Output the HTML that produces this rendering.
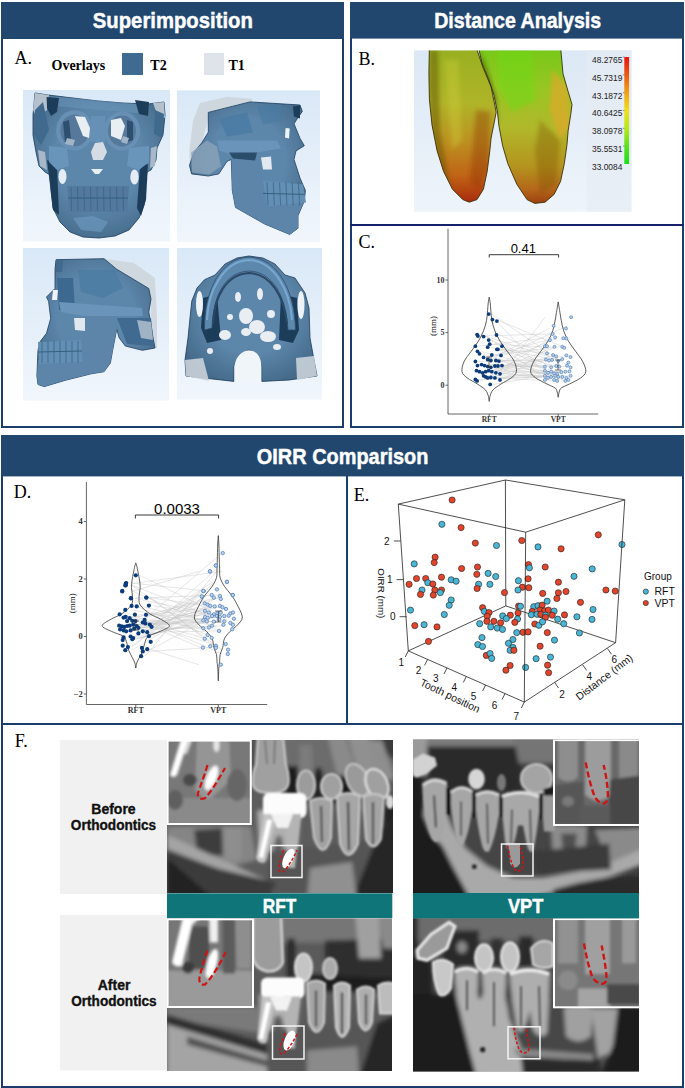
<!DOCTYPE html>
<html><head><meta charset="utf-8"><title>Figure</title>
<style>
html,body{margin:0;padding:0;background:#fff;width:685px;height:1088px;overflow:hidden}
svg{display:block}
.hd{font-family:"Liberation Sans",sans-serif;font-weight:bold;fill:#fff;stroke:#fff;stroke-width:0.45px}
.lab{font-family:"Liberation Serif",serif;fill:#000}
.sans{font-family:"Liberation Sans",sans-serif}
.ser{font-family:"Liberation Serif",serif}
</style></head><body>
<svg width="685" height="1088" viewBox="0 0 685 1088">
<defs><filter id="b1" x="-20%" y="-20%" width="140%" height="140%"><feGaussianBlur stdDeviation="1"/></filter>
<filter id="b15" x="-20%" y="-20%" width="140%" height="140%"><feGaussianBlur stdDeviation="1.5"/></filter>
<filter id="b2" x="-20%" y="-20%" width="140%" height="140%"><feGaussianBlur stdDeviation="2"/></filter>
<filter id="b3" x="-20%" y="-20%" width="140%" height="140%"><feGaussianBlur stdDeviation="3"/></filter>
<filter id="b05"><feGaussianBlur stdDeviation="0.6"/></filter>
<linearGradient id="skbg" x1="0" y1="0" x2="0" y2="1"><stop offset="0" stop-color="#d9e8f7"/><stop offset="1" stop-color="#f1f6fc"/></linearGradient>
<linearGradient id="bbg" x1="0" y1="0" x2="0" y2="1"><stop offset="0" stop-color="#dfeaf6"/><stop offset="1" stop-color="#eef4fa"/></linearGradient>
<linearGradient id="cbar" x1="0" y1="0" x2="0" y2="1"><stop offset="0" stop-color="#e8201a"/><stop offset="0.3" stop-color="#f08a16"/><stop offset="0.5" stop-color="#f2e21a"/><stop offset="0.75" stop-color="#8ee01e"/><stop offset="1" stop-color="#22d61e"/></linearGradient>
</defs>
<!-- ===== Panel A ===== -->
<rect x="2" y="3" width="341" height="424" fill="#fff" stroke="#1b3d6b" stroke-width="2"/>
<rect x="1" y="2" width="343" height="37" fill="#22476f"/>
<text class="hd" x="172.8" y="28" font-size="22" text-anchor="middle" textLength="160" lengthAdjust="spacingAndGlyphs">Superimposition</text>
<text class="lab" x="14.5" y="63.8" font-size="18">A.</text>
<text class="lab" x="51.5" y="69.7" font-size="14" font-weight="bold">Overlays</text>
<rect x="122" y="53" width="21" height="22" fill="#3f6b90"/>
<text class="lab" x="150.3" y="69.7" font-size="14" font-weight="bold">T2</text>
<rect x="204" y="53" width="20" height="22" fill="#dfe4ea"/>
<text class="lab" x="228.5" y="69.7" font-size="14" font-weight="bold">T1</text>
<!-- ===== Panel B/C ===== -->
<rect x="351" y="3" width="332" height="424" fill="#fff" stroke="#1b3d6b" stroke-width="2"/>
<rect x="350" y="2" width="334" height="36.6" fill="#22476f"/>
<text class="hd" x="517.7" y="28" font-size="22" text-anchor="middle" textLength="167" lengthAdjust="spacingAndGlyphs">Distance Analysis</text>
<line x1="350" y1="225" x2="684" y2="225" stroke="#17206a" stroke-width="2"/>
<text class="lab" x="358.6" y="64.8" font-size="18">B.</text>
<text class="lab" x="358.6" y="248.1" font-size="18">C.</text>
<!-- ===== OIRR panel ===== -->
<rect x="2" y="436" width="681" height="651" fill="#fff" stroke="#1b3d6b" stroke-width="2"/>
<rect x="1" y="435" width="683" height="41.4" fill="#22476f"/>
<text class="hd" x="342.6" y="463.5" font-size="22" text-anchor="middle" textLength="171.5" lengthAdjust="spacingAndGlyphs">OIRR Comparison</text>
<line x1="347" y1="476" x2="347" y2="724" stroke="#1b3d6b" stroke-width="2"/>
<line x1="1" y1="724" x2="684" y2="724" stroke="#1b3d6b" stroke-width="2"/>
<text class="lab" x="13.8" y="498.2" font-size="18">D.</text>
<text class="lab" x="353.8" y="501.1" font-size="18">E.</text>
<text class="lab" x="14.8" y="746.7" font-size="18">F.</text>
<!-- Panel F frame -->
<rect x="60" y="740" width="107" height="154" fill="#f1f1f1"/>
<rect x="60" y="915" width="107" height="155.4" fill="#f1f1f1"/>
<g class="sans" font-weight="bold" font-size="14" text-anchor="middle" fill="#111" stroke="#111" stroke-width="0.35">
 <text x="113.5" y="814.3">Before</text>
 <text x="113.5" y="830.3" textLength="85.4" lengthAdjust="spacingAndGlyphs">Orthodontics</text>
 <text x="114.1" y="989.8">After</text>
 <text x="113.9" y="1006.2" textLength="85.4" lengthAdjust="spacingAndGlyphs">Orthodontics</text>
</g>
<defs><radialGradient id="skshade" cx="0.5" cy="0.45" r="0.6"><stop offset="0.55" stop-color="#0a2236" stop-opacity="0"/><stop offset="1" stop-color="#0a2236" stop-opacity="0.28"/></radialGradient></defs><g transform="translate(23,90)">
<rect width="147" height="151.5" fill="url(#skbg)"/>
<g filter="url(#b05)">
<path d="M12,3 L25,5 L50,8 L75,11 L100,13 L125,14 L141,12 L142,25 L140,45 L134,58 L133,70 L128,80 L124,82 L122,95 L121,115 L116,128 L106,140 L92,146 L76,148 L60,147 L47,142 L37,132 L30,118 L28,100 L27,85 L22,82 L16,76 L13,62 L10,45 L10,25 Z" fill="#5c86aa" stroke="#2d4d6c" stroke-width="0.9"/>
<path d="M12,3 L25,5 L50,8 L75,11 L100,13 L125,14 L141,12 L142,25 L140,45 L134,58 L133,70 L128,80 L124,82 L122,95 L121,115 L116,128 L106,140 L92,146 L76,148 L60,147 L47,142 L37,132 L30,118 L28,100 L27,85 L22,82 L16,76 L13,62 L10,45 L10,25 Z" fill="url(#skshade)"/>
<path d="M12,3 L26,5 L24,20 L14,28 L10,20 Z" fill="#c9d1d9" opacity="0.85"/>
<path d="M130,13 L141,12 L142,28 L134,24 Z" fill="#c9d1d9" opacity="0.85"/>
<path d="M26,6 L125,15 L124,24 L30,16 Z" fill="#6c97bc" opacity="0.5"/>
<path d="M24,70 L34,74 L36,125 L30,120 L27,95 Z" fill="#1f3d5a"/>
<path d="M117,76 L125,74 L123,110 L118,126 L114,118 Z" fill="#1f3d5a"/>
<path d="M12,20 L20,12 L26,40 L18,55 L11,45 Z" fill="#41698e"/>
<path d="M132,20 L141,24 L139,48 L131,44 Z" fill="#41698e"/>
<path d="M26,56 L44,58 L46,76 L34,80 L26,72 Z" fill="#6a95ba"/>
<path d="M106,58 L126,56 L126,72 L116,80 L104,76 Z" fill="#6a95ba"/>
<path d="M68,26 L82,26 L82,52 L68,52 Z" fill="#6690b5"/>
<ellipse cx="39.5" cy="86.5" rx="4" ry="7.5" fill="#e4edf6"/>
<ellipse cx="111.5" cy="87" rx="4.2" ry="7.5" fill="#e4edf6"/>
<path d="M23.6,7 L36,8 L34,22 L28,26 L24,18 Z" fill="#1f3d5a"/>
<path d="M112,10 L126,12 L125,26 L116,24 Z" fill="#1f3d5a"/>
<ellipse cx="51.7" cy="40.4" rx="16.5" ry="18" fill="#56789a" stroke="#6890b5" stroke-width="4.2"/>
<ellipse cx="99" cy="41" rx="16" ry="17.5" fill="#56789a" stroke="#6890b5" stroke-width="4.2"/>
<path d="M52,26 L62,27 L67,38 L66,48 L60,46 L56,36 Z" fill="#e9eef3"/>
<path d="M40,32 L46,30 L48,50 L42,52 Z" fill="#2e5070"/>
<path d="M44,48 L52,50 L50,56 L42,54 Z" fill="#9fb4c6"/>
<path d="M88,30 L98,28 L102,36 L98,50 L88,46 Z" fill="#e9eef3"/>
<path d="M104,30 L110,32 L110,50 L104,52 Z" fill="#2e5070"/>
<path d="M100,46 L106,48 L104,54 L98,52 Z" fill="#9fb4c6"/>
<path d="M72,53 L80,52 L84,62 L80,70 L70,70 L68,62 Z" fill="#d5dce3"/>
<path d="M68,79 L80,79 L76,84 L72,84 Z" fill="#e9eef3"/>
<path d="M44,96 L106,96 L104,122 L46,122 Z" fill="#52799f"/>
<path d="M48.0,97 L48.5,121" stroke="#3a6487" stroke-width="0.8"/>
<path d="M54.5,97 L55.0,121" stroke="#3a6487" stroke-width="0.8"/>
<path d="M61.0,97 L61.5,121" stroke="#3a6487" stroke-width="0.8"/>
<path d="M67.5,97 L68.0,121" stroke="#3a6487" stroke-width="0.8"/>
<path d="M74.0,97 L74.5,121" stroke="#3a6487" stroke-width="0.8"/>
<path d="M80.5,97 L81.0,121" stroke="#3a6487" stroke-width="0.8"/>
<path d="M87.0,97 L87.5,121" stroke="#3a6487" stroke-width="0.8"/>
<path d="M93.5,97 L94.0,121" stroke="#3a6487" stroke-width="0.8"/>
<path d="M100.0,97 L100.5,121" stroke="#3a6487" stroke-width="0.8"/>
<path d="M45,108 L105,108" stroke="#35607f" stroke-width="1"/>
<path d="M50,128 L70,126 L85,132 L78,142 L58,140 Z" fill="#6c97bc" opacity="0.7"/>
<path d="M15,60 L22,62 L24,80 L17,76 Z" fill="#a8b8c8"/>
<path d="M128,58 L134,56 L132,76 L127,78 Z" fill="#a8b8c8"/>
</g></g><g transform="translate(177,90.4)">
<rect width="143" height="151.5" fill="url(#skbg)"/>
<g filter="url(#b05)">
<path d="M23,12.5 L50,6.3 L75,8.4 L75,14 L40,22 L31,30 L25,52 L16.7,62.6 L12.5,79 L12.5,58.5 L16,30 Z" fill="#cfd6dd" opacity="0.95"/>
<path d="M31.3,22 L73,11.5 L123,14.6 L125.3,21 L121,27 L117,33.4 L123,48 L127.3,55.3 L119,60.5 L117,69 L123,87.7 L128.4,100 L127.3,110.6 L121,125.3 L121,137.8 L112.7,144 L87.7,133.6 L69,123 L58.5,117 L55.3,100 L54.3,69 L50,71 L41.8,83.5 L31.3,85.6 L14.6,83.5 L12.5,75 L16.7,62.6 L25,52 L31.3,41.8 Z" fill="#5c86aa" stroke="#2d4d6c" stroke-width="0.9"/>
<path d="M31.3,22 L73,11.5 L123,14.6 L125.3,21 L121,27 L117,33.4 L123,48 L127.3,55.3 L119,60.5 L117,69 L123,87.7 L128.4,100 L127.3,110.6 L121,125.3 L121,137.8 L112.7,144 L87.7,133.6 L69,123 L58.5,117 L55.3,100 L54.3,69 L50,71 L41.8,83.5 L31.3,85.6 L14.6,83.5 L12.5,75 L16.7,62.6 L25,52 L31.3,41.8 Z" fill="url(#skshade)"/>
<path d="M14,62 L30,50 L40,56 L44,76 L32,84 L15,82 Z" fill="#8fa6bb" opacity="0.75"/>
<path d="M42,28 L70,22 L76,42 L50,46 Z" fill="#4a7aa2" opacity="0.8"/>
<path d="M80,16 L104,14 L106,30 L86,34 Z" fill="#4a7aa2" opacity="0.6"/>
<path d="M54.3,66 L80,62 L86,88 L100,100 L122,105 L127.3,110.6 L121,125.3 L121,137.8 L112.7,144 L87.7,133.6 L69,123 L58.5,117 L55.3,100 Z" fill="#5b85a9"/>
<path d="M40,50 L100,50 L104,58 L80,62 L54,64 L42,60 Z" fill="#6a94b9"/>
<path d="M52,62 L80,62 L78,70 L56,68 Z" fill="#244360" opacity="0.85"/>
<path d="M84,67 L94,66 L95,79 L86,79 Z" fill="#e2e9f0"/>
<path d="M108.6,37.6 L112.7,38 L112,48 L108,47 Z" fill="#eef3f8"/>
<path d="M116,16 L123,15 L123,28 L117,26 Z" fill="#1f3d5a"/>
<path d="M86,90 L126,94 L129,112 L90,116 Z" fill="#648fb5"/>
<path d="M90.0,92 L91.0,115" stroke="#3a6487" stroke-width="0.8"/>
<path d="M96.3,92 L97.3,115" stroke="#3a6487" stroke-width="0.8"/>
<path d="M102.6,92 L103.6,115" stroke="#3a6487" stroke-width="0.8"/>
<path d="M108.9,92 L109.9,115" stroke="#3a6487" stroke-width="0.8"/>
<path d="M115.2,92 L116.2,115" stroke="#3a6487" stroke-width="0.8"/>
<path d="M121.5,92 L122.5,115" stroke="#3a6487" stroke-width="0.8"/>
<path d="M86,103 L128,104" stroke="#35607f" stroke-width="1"/>
</g></g><g transform="translate(23,248)">
<rect width="146" height="152.7" fill="url(#skbg)"/>
<g filter="url(#b05)">
<path d="M81,10.7 L111,15 L132,30 L134,70 L134,100 L125,100 L128,60 L120,40 L93.8,21.3 Z" fill="#d0d7de" opacity="0.95"/>
<path d="M33,11.7 L81,10.7 L93.8,21.3 L125.8,40.5 L128,51 L125.8,64 L130,89.6 L132,100 L119.4,102.3 L102.3,98 L96,89.6 L93.8,81 L89.6,102.3 L87.4,115 L81,123.7 L68.2,125.8 L42.6,132.2 L21.3,138.6 L15,136.5 L13.9,128 L15,102.3 L17,93.8 L23.5,85.3 L27.7,70.4 L25.6,53.3 L23.5,49 L32,40.5 L32,21.3 Z" fill="#5c86aa" stroke="#2d4d6c" stroke-width="0.9"/>
<path d="M33,11.7 L81,10.7 L93.8,21.3 L125.8,40.5 L128,51 L125.8,64 L130,89.6 L132,100 L119.4,102.3 L102.3,98 L96,89.6 L93.8,81 L89.6,102.3 L87.4,115 L81,123.7 L68.2,125.8 L42.6,132.2 L21.3,138.6 L15,136.5 L13.9,128 L15,102.3 L17,93.8 L23.5,85.3 L27.7,70.4 L25.6,53.3 L23.5,49 L32,40.5 L32,21.3 Z" fill="url(#skshade)"/>
<path d="M55,22 L92,22 L100,40 L80,50 L58,44 Z" fill="#4a7aa2" opacity="0.7"/>
<path d="M34,30 L50,30 L52,62 L36,62 Z" fill="#3c6990"/>
<path d="M94,70 L128,70 L131,98 L104,96 Z" fill="#3f6a90"/>
<path d="M114,72 L128,74 L130,92 L118,90 Z" fill="#b9c6d2" opacity="0.8"/>
<path d="M60,66 L93.8,70 L93.8,81 L89.6,102.3 L87.4,115 L81,123.7 L68.2,125.8 L42.6,132.2 L21.3,138.6 L15,136.5 L13.9,128 L15,112 L40,110 L60,100 Z" fill="#5b85a9"/>
<path d="M36,54 L119,60 L120,68 L60,68 L38,64 Z" fill="#6a94b9"/>
<path d="M51,70 L62,70 L62,83 L52,82 Z" fill="#e0e7ee"/>
<path d="M30,42 L35,42 L34,52 L29,52 Z" fill="#eef3f8"/>
<path d="M15,94 L58,92 L60,114 L16,116 Z" fill="#648fb5"/>
<path d="M19,93 L19,115" stroke="#3a6487" stroke-width="0.8"/>
<path d="M25,93 L25,115" stroke="#3a6487" stroke-width="0.8"/>
<path d="M31,93 L31,115" stroke="#3a6487" stroke-width="0.8"/>
<path d="M37,93 L37,115" stroke="#3a6487" stroke-width="0.8"/>
<path d="M43,93 L43,115" stroke="#3a6487" stroke-width="0.8"/>
<path d="M49,93 L49,115" stroke="#3a6487" stroke-width="0.8"/>
<path d="M55,93 L55,115" stroke="#3a6487" stroke-width="0.8"/>
<path d="M15,104 L59,103" stroke="#35607f" stroke-width="1"/>
<path d="M33,12 L40,12 L39,24 L33,24 Z" fill="#41698e"/>
</g></g><g transform="translate(177,248)">
<rect width="145" height="151.6" fill="url(#skbg)"/>
<g filter="url(#b05)">
<path d="M9,128 L8,112 L11,90 L13,70 L14.8,53 L20,40 L27.5,31.7 L38,27 L48,16 L60,10 L72,8 L86,10 L98,16 L108,27 L118,30 L128,45 L132,60 L133,90 L137,112 L140,128 L112,132 L84.7,133.4 L84.7,118 L80,106 L72,102 L63,106 L57,118 L57,133.4 Z" fill="#5c86aa" stroke="#2d4d6c" stroke-width="0.9"/>
<path d="M9,128 L8,112 L11,90 L13,70 L14.8,53 L20,40 L27.5,31.7 L38,27 L48,16 L60,10 L72,8 L86,10 L98,16 L108,27 L118,30 L128,45 L132,60 L133,90 L137,112 L140,128 L112,132 L84.7,133.4 L84.7,118 L80,106 L72,102 L63,106 L57,118 L57,133.4 Z" fill="url(#skshade)"/>
<path d="M8,112 L26,110 L32,133 L9,128 Z" fill="#c9d1d9" opacity="0.9"/>
<path d="M119,110 L137,108 L140,128 L120,132 Z" fill="#c9d1d9" opacity="0.9"/>
<path d="M26,50 L40,46 L44,92 L30,95 L24,80 Z" fill="#1f3d5a"/>
<path d="M104,46 L120,50 L122,82 L116,95 L102,92 Z" fill="#1f3d5a"/>
<ellipse cx="22.5" cy="56" rx="3.5" ry="13" fill="#eef3f8"/>
<ellipse cx="124" cy="57" rx="3.5" ry="14" fill="#eef3f8"/>
<ellipse cx="69.0" cy="68.0" rx="7.0" ry="8.0" fill="#e9eef3"/>
<ellipse cx="80.0" cy="79.0" rx="8.0" ry="7.0" fill="#e9eef3"/>
<ellipse cx="69.0" cy="84.0" rx="5.0" ry="4.0" fill="#e9eef3"/>
<ellipse cx="48.0" cy="87.0" rx="6.0" ry="5.0" fill="#e9eef3"/>
<ellipse cx="91.0" cy="88.5" rx="8.0" ry="5.5" fill="#e9eef3"/>
<ellipse cx="61.0" cy="49.0" rx="3.0" ry="5.0" fill="#e9eef3"/>
<ellipse cx="83.0" cy="46.0" rx="3.0" ry="6.0" fill="#e9eef3"/>
<ellipse cx="94.0" cy="66.0" rx="4.0" ry="4.0" fill="#e9eef3"/>
<ellipse cx="53.0" cy="69.0" rx="3.0" ry="3.0" fill="#e9eef3"/>
<ellipse cx="100.0" cy="99.0" rx="4.0" ry="3.0" fill="#e9eef3"/>
<ellipse cx="33.0" cy="103.0" rx="3.0" ry="3.0" fill="#e9eef3"/>
<path d="M27.5,82 C27,42 44,10 72,9 C100,10 118,42 118.5,82 L111,82 C109,48 96,24 72,23 C48,24 36,48 35,80 Z" fill="#5d88ad" stroke="#2d4d6c" stroke-width="0.8"/>
<path d="M30,72 C31,42 47,13 72,12 C97,13 113,42 115,72" fill="none" stroke="#78a8cf" stroke-width="2"/>
<path d="M36,76 C37,48 50,26 72,25 C94,26 107,48 110,76" fill="none" stroke="#2a4866" stroke-width="2"/>
</g>
<path d="M57.5,134 L57.5,118 C59,108 65,102.5 72,102.5 C79,102.5 84,108 84.3,118 L84.3,134 Z" fill="#f0f5fa"/>
</g><g id="panelB">
<defs><linearGradient id="rootL" x1="0" y1="50" x2="0" y2="203" gradientUnits="userSpaceOnUse"><stop offset="0" stop-color="#98b020"/><stop offset="0.35" stop-color="#b0b428"/><stop offset="0.6" stop-color="#bc9020"/><stop offset="0.82" stop-color="#c06416"/><stop offset="1" stop-color="#a82a0c"/></linearGradient><linearGradient id="rootR" x1="0" y1="50" x2="0" y2="205" gradientUnits="userSpaceOnUse"><stop offset="0" stop-color="#78c818"/><stop offset="0.25" stop-color="#98c622"/><stop offset="0.5" stop-color="#b0b82a"/><stop offset="0.75" stop-color="#b4941e"/><stop offset="0.9" stop-color="#b4661a"/><stop offset="1" stop-color="#9a3c10"/></linearGradient><linearGradient id="bbg2" x1="0" y1="0" x2="0" y2="1"><stop offset="0" stop-color="#dce8f5"/><stop offset="1" stop-color="#eef4fa"/></linearGradient><linearGradient id="legbg" x1="0" y1="0" x2="0" y2="1"><stop offset="0" stop-color="#e2eaf3"/><stop offset="1" stop-color="#e9eff6"/></linearGradient><clipPath id="cpB"><rect x="414" y="50.4" width="217.4" height="161.3"/></clipPath></defs>
<rect x="414" y="50.4" width="217.4" height="161.3" fill="url(#bbg2)"/>
<rect x="586.7" y="50.4" width="44.7" height="161.3" fill="url(#legbg)"/>
<defs><clipPath id="cpRL"><path d="M429.4,46.0 L428.9,73.7 L429.4,99.4 L432.0,125.0 L437.1,150.8 L443.5,171.3 L452.5,189.3 L462.8,199.6 L469.2,202.2 L477.0,199.6 L483.4,189.3 L487.2,171.3 L489.8,150.8 L491.1,138.0 L493.7,125.0 L496.2,112.2 L491.0,86.5 L483.4,68.6 L475.7,46.0 Z"/></clipPath><clipPath id="cpRR"><path d="M478.2,46.0 L482.0,63.4 L488.5,78.8 L493.7,94.2 L497.5,112.2 L498.8,125.0 L502.6,145.6 L507.8,163.6 L516.8,184.2 L527.0,199.6 L534.8,203.4 L545.0,202.2 L554.0,194.5 L560.5,181.6 L564.3,163.6 L566.9,145.6 L568.2,130.2 L570.7,114.8 L572.0,104.5 L568.2,91.7 L563.0,73.7 L560.5,46.0 Z"/></clipPath></defs>
<g clip-path="url(#cpB)">
<path d="M429.4,46.0 L428.9,73.7 L429.4,99.4 L432.0,125.0 L437.1,150.8 L443.5,171.3 L452.5,189.3 L462.8,199.6 L469.2,202.2 L477.0,199.6 L483.4,189.3 L487.2,171.3 L489.8,150.8 L491.1,138.0 L493.7,125.0 L496.2,112.2 L491.0,86.5 L483.4,68.6 L475.7,46.0 Z" fill="url(#rootL)"/>
<path d="M478.2,46.0 L482.0,63.4 L488.5,78.8 L493.7,94.2 L497.5,112.2 L498.8,125.0 L502.6,145.6 L507.8,163.6 L516.8,184.2 L527.0,199.6 L534.8,203.4 L545.0,202.2 L554.0,194.5 L560.5,181.6 L564.3,163.6 L566.9,145.6 L568.2,130.2 L570.7,114.8 L572.0,104.5 L568.2,91.7 L563.0,73.7 L560.5,46.0 Z" fill="url(#rootR)"/>
<g clip-path="url(#cpRL)"><g filter="url(#b2)">
<path d="M430,50 L438,50 L440,130 L450,185 L440,175 L432,140 L429,90 Z" fill="#5a4a08" opacity="0.45"/>
<path d="M445,60 L458,60 L462,140 L452,150 Z" fill="#d0d040" opacity="0.35"/>
<path d="M476,110 L490,112 L488,170 L478,190 L470,180 Z" fill="#8a2a08" opacity="0.35"/>
</g></g><g clip-path="url(#cpRR)"><g filter="url(#b2)">
<path d="M498,50 L532,50 L536,100 L512,112 L498,86 Z" fill="#70d818" opacity="0.55"/>
<path d="M552,70 L568,86 L570,125 L560,140 L550,110 Z" fill="#e0a828" opacity="0.7"/>
<path d="M540,120 L560,140 L556,185 L540,195 L535,150 Z" fill="#7a5008" opacity="0.35"/>
<path d="M478,50 L484,60 L496,96 L498,125 L492,110 L482,70 Z" fill="#303808" opacity="0.5"/>
</g></g>
<path d="M429.4,46.0 L428.9,73.7 L429.4,99.4 L432.0,125.0 L437.1,150.8 L443.5,171.3 L452.5,189.3 L462.8,199.6 L469.2,202.2 L477.0,199.6 L483.4,189.3 L487.2,171.3 L489.8,150.8 L491.1,138.0 L493.7,125.0 L496.2,112.2 L491.0,86.5 L483.4,68.6 L475.7,46.0 Z" fill="none" stroke="#3a3008" stroke-width="0.9"/>
<path d="M478.2,46.0 L482.0,63.4 L488.5,78.8 L493.7,94.2 L497.5,112.2 L498.8,125.0 L502.6,145.6 L507.8,163.6 L516.8,184.2 L527.0,199.6 L534.8,203.4 L545.0,202.2 L554.0,194.5 L560.5,181.6 L564.3,163.6 L566.9,145.6 L568.2,130.2 L570.7,114.8 L572.0,104.5 L568.2,91.7 L563.0,73.7 L560.5,46.0 Z" fill="none" stroke="#3a3008" stroke-width="0.9"/>
</g>
<defs><linearGradient id="cbar2" x1="0" y1="0" x2="0" y2="1"><stop offset="0" stop-color="#e8140e"/><stop offset="0.17" stop-color="#ec5a10"/><stop offset="0.33" stop-color="#f0a016"/><stop offset="0.5" stop-color="#f0e01a"/><stop offset="0.67" stop-color="#b4e81c"/><stop offset="0.83" stop-color="#60e01e"/><stop offset="1" stop-color="#18dc1e"/></linearGradient></defs>
<rect x="624.3" y="57" width="4.8" height="107" fill="url(#cbar2)"/>
<text class="sans" x="622.3" y="62.8" font-size="8.4" fill="#222" text-anchor="end">48.2765</text>
<line x1="622.8" y1="57.0" x2="624.5" y2="57.0" stroke="#555" stroke-width="0.6"/>
<text class="sans" x="622.3" y="80.7" font-size="8.4" fill="#222" text-anchor="end">45.7319</text>
<line x1="622.8" y1="74.8" x2="624.5" y2="74.8" stroke="#555" stroke-width="0.6"/>
<text class="sans" x="622.3" y="98.5" font-size="8.4" fill="#222" text-anchor="end">43.1872</text>
<line x1="622.8" y1="92.7" x2="624.5" y2="92.7" stroke="#555" stroke-width="0.6"/>
<text class="sans" x="622.3" y="116.4" font-size="8.4" fill="#222" text-anchor="end">40.6425</text>
<line x1="622.8" y1="110.5" x2="624.5" y2="110.5" stroke="#555" stroke-width="0.6"/>
<text class="sans" x="622.3" y="134.2" font-size="8.4" fill="#222" text-anchor="end">38.0978</text>
<line x1="622.8" y1="128.3" x2="624.5" y2="128.3" stroke="#555" stroke-width="0.6"/>
<text class="sans" x="622.3" y="152.1" font-size="8.4" fill="#222" text-anchor="end">35.5531</text>
<line x1="622.8" y1="146.1" x2="624.5" y2="146.1" stroke="#555" stroke-width="0.6"/>
<text class="sans" x="622.3" y="170.0" font-size="8.4" fill="#222" text-anchor="end">33.0084</text>
</g><g id="panelC">
<path d="M448,228.7 L448,414 L598.2,414" fill="none" stroke="#555" stroke-width="0.9"/>
<line x1="445.5" y1="385.2" x2="448" y2="385.2" stroke="#555" stroke-width="0.9"/>
<text class="ser" x="444.5" y="387.8" font-size="8" font-weight="bold" fill="#333" text-anchor="end">0</text>
<line x1="445.5" y1="332.6" x2="448" y2="332.6" stroke="#555" stroke-width="0.9"/>
<text class="ser" x="444.5" y="335.2" font-size="8" font-weight="bold" fill="#333" text-anchor="end">5</text>
<line x1="445.5" y1="280.0" x2="448" y2="280.0" stroke="#555" stroke-width="0.9"/>
<text class="ser" x="444.5" y="282.6" font-size="8" font-weight="bold" fill="#333" text-anchor="end">10</text>
<line x1="489.2" y1="414" x2="489.2" y2="416.5" stroke="#555" stroke-width="0.9"/>
<text class="ser" x="489.2" y="422.3" font-size="7.5" font-weight="bold" fill="#333" text-anchor="middle">RFT</text>
<line x1="558.2" y1="414" x2="558.2" y2="416.5" stroke="#555" stroke-width="0.9"/>
<text class="ser" x="558.2" y="422.3" font-size="7.5" font-weight="bold" fill="#333" text-anchor="middle">VPT</text>
<text class="ser" transform="translate(436,326) rotate(-90)" font-size="9" fill="#111" text-anchor="middle">(mm)</text>
<path d="M489.2,257.5 L489.2,254.7 L558.6,254.7 L558.6,257.5" fill="none" stroke="#222" stroke-width="0.9"/>
<text class="sans" x="523.3" y="253.2" font-size="13" fill="#000" text-anchor="middle">0.41</text>
<line x1="491.7" y1="314.1" x2="568.1" y2="366.0" stroke="#c8c8c8" stroke-width="0.45"/>
<line x1="495.4" y1="319.6" x2="550.7" y2="379.9" stroke="#c8c8c8" stroke-width="0.45"/>
<line x1="499.9" y1="321.1" x2="563.0" y2="346.8" stroke="#c8c8c8" stroke-width="0.45"/>
<line x1="480.1" y1="334.6" x2="549.7" y2="357.0" stroke="#c8c8c8" stroke-width="0.45"/>
<line x1="480.9" y1="336.0" x2="552.1" y2="333.9" stroke="#c8c8c8" stroke-width="0.45"/>
<line x1="486.6" y1="336.6" x2="547.0" y2="379.9" stroke="#c8c8c8" stroke-width="0.45"/>
<line x1="499.5" y1="335.0" x2="560.3" y2="360.5" stroke="#c8c8c8" stroke-width="0.45"/>
<line x1="491.7" y1="340.1" x2="563.4" y2="379.9" stroke="#c8c8c8" stroke-width="0.45"/>
<line x1="492.7" y1="344.2" x2="541.9" y2="346.8" stroke="#c8c8c8" stroke-width="0.45"/>
<line x1="478.4" y1="346.2" x2="544.0" y2="338.2" stroke="#c8c8c8" stroke-width="0.45"/>
<line x1="505.0" y1="346.2" x2="551.5" y2="366.6" stroke="#c8c8c8" stroke-width="0.45"/>
<line x1="490.7" y1="347.2" x2="559.3" y2="367.3" stroke="#c8c8c8" stroke-width="0.45"/>
<line x1="480.5" y1="351.3" x2="561.3" y2="372.8" stroke="#c8c8c8" stroke-width="0.45"/>
<line x1="482.5" y1="353.8" x2="544.0" y2="371.7" stroke="#c8c8c8" stroke-width="0.45"/>
<line x1="499.9" y1="349.3" x2="550.1" y2="353.4" stroke="#c8c8c8" stroke-width="0.45"/>
<line x1="500.9" y1="349.3" x2="553.2" y2="359.1" stroke="#c8c8c8" stroke-width="0.45"/>
<line x1="494.8" y1="355.0" x2="563.4" y2="346.2" stroke="#c8c8c8" stroke-width="0.45"/>
<line x1="504.0" y1="355.4" x2="567.5" y2="325.8" stroke="#c8c8c8" stroke-width="0.45"/>
<line x1="478.4" y1="361.5" x2="542.9" y2="359.5" stroke="#c8c8c8" stroke-width="0.45"/>
<line x1="486.6" y1="357.4" x2="546.0" y2="340.1" stroke="#c8c8c8" stroke-width="0.45"/>
<line x1="490.7" y1="359.5" x2="549.1" y2="328.4" stroke="#c8c8c8" stroke-width="0.45"/>
<line x1="493.8" y1="360.5" x2="555.2" y2="361.1" stroke="#c8c8c8" stroke-width="0.45"/>
<line x1="498.9" y1="360.5" x2="559.3" y2="377.9" stroke="#c8c8c8" stroke-width="0.45"/>
<line x1="501.9" y1="361.1" x2="565.4" y2="380.9" stroke="#c8c8c8" stroke-width="0.45"/>
<line x1="480.5" y1="365.6" x2="541.9" y2="376.9" stroke="#c8c8c8" stroke-width="0.45"/>
<line x1="484.6" y1="364.6" x2="548.1" y2="365.6" stroke="#c8c8c8" stroke-width="0.45"/>
<line x1="487.6" y1="365.6" x2="553.2" y2="371.7" stroke="#c8c8c8" stroke-width="0.45"/>
<line x1="490.7" y1="366.6" x2="556.2" y2="338.4" stroke="#c8c8c8" stroke-width="0.45"/>
<line x1="493.8" y1="367.3" x2="564.0" y2="375.8" stroke="#c8c8c8" stroke-width="0.45"/>
<line x1="497.9" y1="366.0" x2="567.5" y2="366.6" stroke="#c8c8c8" stroke-width="0.45"/>
<line x1="500.9" y1="366.0" x2="541.9" y2="359.9" stroke="#c8c8c8" stroke-width="0.45"/>
<line x1="505.0" y1="365.6" x2="545.0" y2="367.3" stroke="#c8c8c8" stroke-width="0.45"/>
<line x1="479.5" y1="370.7" x2="548.1" y2="373.4" stroke="#c8c8c8" stroke-width="0.45"/>
<line x1="482.5" y1="371.7" x2="551.1" y2="376.9" stroke="#c8c8c8" stroke-width="0.45"/>
<line x1="485.6" y1="372.8" x2="554.2" y2="347.8" stroke="#c8c8c8" stroke-width="0.45"/>
<line x1="488.7" y1="371.7" x2="558.3" y2="355.0" stroke="#c8c8c8" stroke-width="0.45"/>
<line x1="491.7" y1="370.7" x2="562.4" y2="372.2" stroke="#c8c8c8" stroke-width="0.45"/>
<line x1="494.8" y1="371.7" x2="566.4" y2="355.4" stroke="#c8c8c8" stroke-width="0.45"/>
<line x1="498.9" y1="372.8" x2="541.9" y2="377.9" stroke="#c8c8c8" stroke-width="0.45"/>
<line x1="503.0" y1="373.8" x2="545.0" y2="317.2" stroke="#c8c8c8" stroke-width="0.45"/>
<line x1="486.6" y1="375.8" x2="548.1" y2="375.8" stroke="#c8c8c8" stroke-width="0.45"/>
<line x1="488.7" y1="376.9" x2="552.1" y2="337.4" stroke="#c8c8c8" stroke-width="0.45"/>
<line x1="490.7" y1="377.9" x2="555.2" y2="380.9" stroke="#c8c8c8" stroke-width="0.45"/>
<line x1="493.8" y1="377.5" x2="559.3" y2="376.9" stroke="#c8c8c8" stroke-width="0.45"/>
<line x1="497.9" y1="377.9" x2="563.4" y2="370.7" stroke="#c8c8c8" stroke-width="0.45"/>
<line x1="478.4" y1="379.5" x2="567.5" y2="375.8" stroke="#c8c8c8" stroke-width="0.45"/>
<line x1="480.1" y1="380.9" x2="541.9" y2="362.6" stroke="#c8c8c8" stroke-width="0.45"/>
<line x1="503.0" y1="379.9" x2="551.1" y2="346.2" stroke="#c8c8c8" stroke-width="0.45"/>
<line x1="493.2" y1="384.4" x2="554.2" y2="373.8" stroke="#c8c8c8" stroke-width="0.45"/>
<path d="M489.20,297.20 C489.37,298.17 489.93,300.80 490.20,303.00 C490.47,305.20 490.52,307.45 490.80,310.40 C491.08,313.35 491.22,317.28 491.90,320.70 C492.58,324.12 493.55,327.50 494.90,330.90 C496.25,334.30 497.95,337.70 500.00,341.10 C502.05,344.50 504.82,347.90 507.20,351.30 C509.58,354.70 512.77,358.10 514.30,361.50 C515.83,364.90 516.92,368.97 516.40,371.70 C515.88,374.43 513.77,375.85 511.20,377.90 C508.63,379.95 504.05,381.98 501.00,384.00 C497.95,386.02 494.73,387.95 492.90,390.00 C491.07,392.05 490.62,394.40 490.00,396.30 C489.38,398.20 489.33,400.55 489.20,401.40 L489.20,401.40 C489.07,400.55 489.02,398.20 488.40,396.30 C487.78,394.40 487.33,392.05 485.50,390.00 C483.67,387.95 480.45,386.02 477.40,384.00 C474.35,381.98 469.77,379.95 467.20,377.90 C464.63,375.85 462.52,374.43 462.00,371.70 C461.48,368.97 462.57,364.90 464.10,361.50 C465.63,358.10 468.82,354.70 471.20,351.30 C473.58,347.90 476.35,344.50 478.40,341.10 C480.45,337.70 482.15,334.30 483.50,330.90 C484.85,327.50 485.82,324.12 486.50,320.70 C487.18,317.28 487.32,313.35 487.60,310.40 C487.88,307.45 487.93,305.20 488.20,303.00 C488.47,300.80 489.03,298.17 489.20,297.20 Z" fill="none" stroke="#333" stroke-width="0.8"/>
<path d="M558.20,301.90 C558.37,302.92 558.97,306.58 559.20,308.00 C559.43,309.42 559.25,308.28 559.60,310.40 C559.95,312.52 560.62,317.28 561.30,320.70 C561.98,324.12 562.52,327.50 563.70,330.90 C564.88,334.30 566.42,337.70 568.40,341.10 C570.38,344.50 573.22,347.90 575.60,351.30 C577.98,354.70 581.00,358.10 582.70,361.50 C584.40,364.90 586.13,368.97 585.80,371.70 C585.47,374.43 583.43,375.85 580.70,377.90 C577.97,379.95 572.63,382.32 569.40,384.00 C566.17,385.68 563.00,386.67 561.30,388.00 C559.60,389.33 559.72,390.45 559.20,392.00 C558.68,393.55 558.37,396.42 558.20,397.30 L558.20,397.30 C558.03,396.42 557.72,393.55 557.20,392.00 C556.68,390.45 556.80,389.33 555.10,388.00 C553.40,386.67 550.23,385.68 547.00,384.00 C543.77,382.32 538.43,379.95 535.70,377.90 C532.97,375.85 530.93,374.43 530.60,371.70 C530.27,368.97 532.00,364.90 533.70,361.50 C535.40,358.10 538.42,354.70 540.80,351.30 C543.18,347.90 546.02,344.50 548.00,341.10 C549.98,337.70 551.52,334.30 552.70,330.90 C553.88,327.50 554.42,324.12 555.10,320.70 C555.78,317.28 556.45,312.52 556.80,310.40 C557.15,308.28 556.97,309.42 557.20,308.00 C557.43,306.58 558.03,302.92 558.20,301.90 Z" fill="none" stroke="#333" stroke-width="0.8"/>
<circle cx="488.7" cy="314.1" r="1.9" fill="#0c3c7c"/>
<circle cx="492.4" cy="319.6" r="1.9" fill="#0c3c7c"/>
<circle cx="496.9" cy="321.1" r="1.9" fill="#0c3c7c"/>
<circle cx="477.1" cy="334.6" r="1.9" fill="#0c3c7c"/>
<circle cx="477.9" cy="336.0" r="1.9" fill="#0c3c7c"/>
<circle cx="483.6" cy="336.6" r="1.9" fill="#0c3c7c"/>
<circle cx="496.5" cy="335.0" r="1.9" fill="#0c3c7c"/>
<circle cx="488.7" cy="340.1" r="1.9" fill="#0c3c7c"/>
<circle cx="489.7" cy="344.2" r="1.9" fill="#0c3c7c"/>
<circle cx="475.4" cy="346.2" r="1.9" fill="#0c3c7c"/>
<circle cx="502.0" cy="346.2" r="1.9" fill="#0c3c7c"/>
<circle cx="487.7" cy="347.2" r="1.9" fill="#0c3c7c"/>
<circle cx="477.5" cy="351.3" r="1.9" fill="#0c3c7c"/>
<circle cx="479.5" cy="353.8" r="1.9" fill="#0c3c7c"/>
<circle cx="496.9" cy="349.3" r="1.9" fill="#0c3c7c"/>
<circle cx="497.9" cy="349.3" r="1.9" fill="#0c3c7c"/>
<circle cx="491.8" cy="355.0" r="1.9" fill="#0c3c7c"/>
<circle cx="501.0" cy="355.4" r="1.9" fill="#0c3c7c"/>
<circle cx="475.4" cy="361.5" r="1.9" fill="#0c3c7c"/>
<circle cx="483.6" cy="357.4" r="1.9" fill="#0c3c7c"/>
<circle cx="487.7" cy="359.5" r="1.9" fill="#0c3c7c"/>
<circle cx="490.8" cy="360.5" r="1.9" fill="#0c3c7c"/>
<circle cx="495.9" cy="360.5" r="1.9" fill="#0c3c7c"/>
<circle cx="498.9" cy="361.1" r="1.9" fill="#0c3c7c"/>
<circle cx="477.5" cy="365.6" r="1.9" fill="#0c3c7c"/>
<circle cx="481.6" cy="364.6" r="1.9" fill="#0c3c7c"/>
<circle cx="484.6" cy="365.6" r="1.9" fill="#0c3c7c"/>
<circle cx="487.7" cy="366.6" r="1.9" fill="#0c3c7c"/>
<circle cx="490.8" cy="367.3" r="1.9" fill="#0c3c7c"/>
<circle cx="494.9" cy="366.0" r="1.9" fill="#0c3c7c"/>
<circle cx="497.9" cy="366.0" r="1.9" fill="#0c3c7c"/>
<circle cx="502.0" cy="365.6" r="1.9" fill="#0c3c7c"/>
<circle cx="476.5" cy="370.7" r="1.9" fill="#0c3c7c"/>
<circle cx="479.5" cy="371.7" r="1.9" fill="#0c3c7c"/>
<circle cx="482.6" cy="372.8" r="1.9" fill="#0c3c7c"/>
<circle cx="485.7" cy="371.7" r="1.9" fill="#0c3c7c"/>
<circle cx="488.7" cy="370.7" r="1.9" fill="#0c3c7c"/>
<circle cx="491.8" cy="371.7" r="1.9" fill="#0c3c7c"/>
<circle cx="495.9" cy="372.8" r="1.9" fill="#0c3c7c"/>
<circle cx="500.0" cy="373.8" r="1.9" fill="#0c3c7c"/>
<circle cx="483.6" cy="375.8" r="1.9" fill="#0c3c7c"/>
<circle cx="485.7" cy="376.9" r="1.9" fill="#0c3c7c"/>
<circle cx="487.7" cy="377.9" r="1.9" fill="#0c3c7c"/>
<circle cx="490.8" cy="377.5" r="1.9" fill="#0c3c7c"/>
<circle cx="494.9" cy="377.9" r="1.9" fill="#0c3c7c"/>
<circle cx="475.4" cy="379.5" r="1.9" fill="#0c3c7c"/>
<circle cx="477.1" cy="380.9" r="1.9" fill="#0c3c7c"/>
<circle cx="500.0" cy="379.9" r="1.9" fill="#0c3c7c"/>
<circle cx="490.2" cy="384.4" r="1.9" fill="#0c3c7c"/>
<circle cx="571.1" cy="317.2" r="1.5" fill="#bcd1e8" stroke="#5282bb" stroke-width="0.7"/>
<circle cx="553.7" cy="325.8" r="1.5" fill="#bcd1e8" stroke="#5282bb" stroke-width="0.7"/>
<circle cx="566.0" cy="328.4" r="1.5" fill="#bcd1e8" stroke="#5282bb" stroke-width="0.7"/>
<circle cx="552.7" cy="333.9" r="1.5" fill="#bcd1e8" stroke="#5282bb" stroke-width="0.7"/>
<circle cx="555.1" cy="337.4" r="1.5" fill="#bcd1e8" stroke="#5282bb" stroke-width="0.7"/>
<circle cx="550.0" cy="340.1" r="1.5" fill="#bcd1e8" stroke="#5282bb" stroke-width="0.7"/>
<circle cx="563.3" cy="338.2" r="1.5" fill="#bcd1e8" stroke="#5282bb" stroke-width="0.7"/>
<circle cx="566.4" cy="338.4" r="1.5" fill="#bcd1e8" stroke="#5282bb" stroke-width="0.7"/>
<circle cx="544.9" cy="346.2" r="1.5" fill="#bcd1e8" stroke="#5282bb" stroke-width="0.7"/>
<circle cx="547.0" cy="346.2" r="1.5" fill="#bcd1e8" stroke="#5282bb" stroke-width="0.7"/>
<circle cx="554.5" cy="346.8" r="1.5" fill="#bcd1e8" stroke="#5282bb" stroke-width="0.7"/>
<circle cx="562.3" cy="346.8" r="1.5" fill="#bcd1e8" stroke="#5282bb" stroke-width="0.7"/>
<circle cx="564.3" cy="347.8" r="1.5" fill="#bcd1e8" stroke="#5282bb" stroke-width="0.7"/>
<circle cx="547.0" cy="353.4" r="1.5" fill="#bcd1e8" stroke="#5282bb" stroke-width="0.7"/>
<circle cx="553.1" cy="355.0" r="1.5" fill="#bcd1e8" stroke="#5282bb" stroke-width="0.7"/>
<circle cx="556.2" cy="356.4" r="1.5" fill="#bcd1e8" stroke="#5282bb" stroke-width="0.7"/>
<circle cx="566.4" cy="355.4" r="1.5" fill="#bcd1e8" stroke="#5282bb" stroke-width="0.7"/>
<circle cx="570.5" cy="357.0" r="1.5" fill="#bcd1e8" stroke="#5282bb" stroke-width="0.7"/>
<circle cx="545.9" cy="359.5" r="1.5" fill="#bcd1e8" stroke="#5282bb" stroke-width="0.7"/>
<circle cx="549.0" cy="360.5" r="1.5" fill="#bcd1e8" stroke="#5282bb" stroke-width="0.7"/>
<circle cx="552.1" cy="359.9" r="1.5" fill="#bcd1e8" stroke="#5282bb" stroke-width="0.7"/>
<circle cx="558.2" cy="361.1" r="1.5" fill="#bcd1e8" stroke="#5282bb" stroke-width="0.7"/>
<circle cx="562.3" cy="359.1" r="1.5" fill="#bcd1e8" stroke="#5282bb" stroke-width="0.7"/>
<circle cx="568.4" cy="362.6" r="1.5" fill="#bcd1e8" stroke="#5282bb" stroke-width="0.7"/>
<circle cx="544.9" cy="366.6" r="1.5" fill="#bcd1e8" stroke="#5282bb" stroke-width="0.7"/>
<circle cx="551.1" cy="367.3" r="1.5" fill="#bcd1e8" stroke="#5282bb" stroke-width="0.7"/>
<circle cx="556.2" cy="366.0" r="1.5" fill="#bcd1e8" stroke="#5282bb" stroke-width="0.7"/>
<circle cx="559.2" cy="366.6" r="1.5" fill="#bcd1e8" stroke="#5282bb" stroke-width="0.7"/>
<circle cx="567.0" cy="365.6" r="1.5" fill="#bcd1e8" stroke="#5282bb" stroke-width="0.7"/>
<circle cx="570.5" cy="367.3" r="1.5" fill="#bcd1e8" stroke="#5282bb" stroke-width="0.7"/>
<circle cx="544.9" cy="370.7" r="1.5" fill="#bcd1e8" stroke="#5282bb" stroke-width="0.7"/>
<circle cx="548.0" cy="372.8" r="1.5" fill="#bcd1e8" stroke="#5282bb" stroke-width="0.7"/>
<circle cx="551.1" cy="371.7" r="1.5" fill="#bcd1e8" stroke="#5282bb" stroke-width="0.7"/>
<circle cx="554.1" cy="373.4" r="1.5" fill="#bcd1e8" stroke="#5282bb" stroke-width="0.7"/>
<circle cx="557.2" cy="373.8" r="1.5" fill="#bcd1e8" stroke="#5282bb" stroke-width="0.7"/>
<circle cx="561.3" cy="372.2" r="1.5" fill="#bcd1e8" stroke="#5282bb" stroke-width="0.7"/>
<circle cx="565.4" cy="371.7" r="1.5" fill="#bcd1e8" stroke="#5282bb" stroke-width="0.7"/>
<circle cx="569.4" cy="371.3" r="1.5" fill="#bcd1e8" stroke="#5282bb" stroke-width="0.7"/>
<circle cx="544.9" cy="375.8" r="1.5" fill="#bcd1e8" stroke="#5282bb" stroke-width="0.7"/>
<circle cx="548.0" cy="377.9" r="1.5" fill="#bcd1e8" stroke="#5282bb" stroke-width="0.7"/>
<circle cx="551.1" cy="376.9" r="1.5" fill="#bcd1e8" stroke="#5282bb" stroke-width="0.7"/>
<circle cx="555.1" cy="375.8" r="1.5" fill="#bcd1e8" stroke="#5282bb" stroke-width="0.7"/>
<circle cx="558.2" cy="376.9" r="1.5" fill="#bcd1e8" stroke="#5282bb" stroke-width="0.7"/>
<circle cx="562.3" cy="376.9" r="1.5" fill="#bcd1e8" stroke="#5282bb" stroke-width="0.7"/>
<circle cx="566.4" cy="377.9" r="1.5" fill="#bcd1e8" stroke="#5282bb" stroke-width="0.7"/>
<circle cx="570.5" cy="375.8" r="1.5" fill="#bcd1e8" stroke="#5282bb" stroke-width="0.7"/>
<circle cx="544.9" cy="379.9" r="1.5" fill="#bcd1e8" stroke="#5282bb" stroke-width="0.7"/>
<circle cx="554.1" cy="379.9" r="1.5" fill="#bcd1e8" stroke="#5282bb" stroke-width="0.7"/>
<circle cx="557.2" cy="380.9" r="1.5" fill="#bcd1e8" stroke="#5282bb" stroke-width="0.7"/>
<circle cx="565.4" cy="380.9" r="1.5" fill="#bcd1e8" stroke="#5282bb" stroke-width="0.7"/>
<circle cx="568.4" cy="379.9" r="1.5" fill="#bcd1e8" stroke="#5282bb" stroke-width="0.7"/>
<path d="M486,357 L492,357 M489,357 L489,367 M486,367 L492,367" stroke="#333" stroke-width="0.7"/>
<path d="M555,360 L561,360 M558,360 L558,370 M555,370 L561,370" stroke="#333" stroke-width="0.7"/>
</g><g id="panelD">
<path d="M86.4,482 L86.4,704.5 L267.2,704.5" fill="none" stroke="#555" stroke-width="0.9"/>
<line x1="83.8" y1="694.0" x2="86.4" y2="694.0" stroke="#555" stroke-width="0.9"/>
<text class="ser" x="82.8" y="696.8" font-size="8.5" font-weight="bold" fill="#333" text-anchor="end">−2</text>
<line x1="83.8" y1="636.5" x2="86.4" y2="636.5" stroke="#555" stroke-width="0.9"/>
<text class="ser" x="82.8" y="639.3" font-size="8.5" font-weight="bold" fill="#333" text-anchor="end">0</text>
<line x1="83.8" y1="579.0" x2="86.4" y2="579.0" stroke="#555" stroke-width="0.9"/>
<text class="ser" x="82.8" y="581.8" font-size="8.5" font-weight="bold" fill="#333" text-anchor="end">2</text>
<line x1="83.8" y1="521.5" x2="86.4" y2="521.5" stroke="#555" stroke-width="0.9"/>
<text class="ser" x="82.8" y="524.3" font-size="8.5" font-weight="bold" fill="#333" text-anchor="end">4</text>
<line x1="135.8" y1="704.5" x2="135.8" y2="707" stroke="#555" stroke-width="0.9"/>
<text class="ser" x="135.8" y="713.3" font-size="8" font-weight="bold" fill="#333" text-anchor="middle">RFT</text>
<line x1="218.3" y1="704.5" x2="218.3" y2="707" stroke="#555" stroke-width="0.9"/>
<text class="ser" x="218.3" y="713.3" font-size="8" font-weight="bold" fill="#333" text-anchor="middle">VPT</text>
<text class="ser" transform="translate(74.6,603.3) rotate(-90)" font-size="9" fill="#111" text-anchor="middle">(mm)</text>
<path d="M135.4,518.5 L135.4,515 L218.6,515 L218.6,518.5" fill="none" stroke="#222" stroke-width="0.9"/>
<text class="sans" x="177" y="513.6" font-size="15" fill="#000" text-anchor="middle">0.0033</text>
<line x1="139.8" y1="575.3" x2="211.9" y2="610.8" stroke="#c8c8c8" stroke-width="0.45"/>
<line x1="132.0" y1="583.1" x2="205.9" y2="590.9" stroke="#c8c8c8" stroke-width="0.45"/>
<line x1="132.0" y1="585.4" x2="222.0" y2="649.7" stroke="#c8c8c8" stroke-width="0.45"/>
<line x1="132.0" y1="591.4" x2="199.6" y2="571.3" stroke="#c8c8c8" stroke-width="0.45"/>
<line x1="134.9" y1="598.4" x2="212.9" y2="614.3" stroke="#c8c8c8" stroke-width="0.45"/>
<line x1="150.3" y1="597.7" x2="197.9" y2="604.7" stroke="#c8c8c8" stroke-width="0.45"/>
<line x1="135.6" y1="605.9" x2="207.7" y2="635.0" stroke="#c8c8c8" stroke-width="0.45"/>
<line x1="140.7" y1="606.4" x2="215.9" y2="623.0" stroke="#c8c8c8" stroke-width="0.45"/>
<line x1="152.9" y1="605.6" x2="216.8" y2="616.0" stroke="#c8c8c8" stroke-width="0.45"/>
<line x1="132.0" y1="609.9" x2="209.8" y2="624.8" stroke="#c8c8c8" stroke-width="0.45"/>
<line x1="132.0" y1="614.3" x2="222.0" y2="654.0" stroke="#c8c8c8" stroke-width="0.45"/>
<line x1="138.9" y1="614.7" x2="200.7" y2="615.7" stroke="#c8c8c8" stroke-width="0.45"/>
<line x1="150.0" y1="614.8" x2="203.7" y2="598.9" stroke="#c8c8c8" stroke-width="0.45"/>
<line x1="132.0" y1="617.6" x2="206.3" y2="638.8" stroke="#c8c8c8" stroke-width="0.45"/>
<line x1="132.0" y1="616.9" x2="210.7" y2="607.3" stroke="#c8c8c8" stroke-width="0.45"/>
<line x1="133.7" y1="618.2" x2="215.9" y2="597.7" stroke="#c8c8c8" stroke-width="0.45"/>
<line x1="136.3" y1="620.8" x2="218.5" y2="645.8" stroke="#c8c8c8" stroke-width="0.45"/>
<line x1="132.0" y1="621.1" x2="222.0" y2="596.8" stroke="#c8c8c8" stroke-width="0.45"/>
<line x1="139.5" y1="621.1" x2="201.0" y2="647.9" stroke="#c8c8c8" stroke-width="0.45"/>
<line x1="148.6" y1="619.9" x2="204.9" y2="628.3" stroke="#c8c8c8" stroke-width="0.45"/>
<line x1="132.0" y1="625.7" x2="209.8" y2="613.4" stroke="#c8c8c8" stroke-width="0.45"/>
<line x1="132.0" y1="626.4" x2="213.3" y2="621.3" stroke="#c8c8c8" stroke-width="0.45"/>
<line x1="132.0" y1="626.9" x2="216.8" y2="629.2" stroke="#c8c8c8" stroke-width="0.45"/>
<line x1="132.0" y1="626.0" x2="222.0" y2="616.0" stroke="#c8c8c8" stroke-width="0.45"/>
<line x1="133.7" y1="625.7" x2="222.0" y2="606.4" stroke="#c8c8c8" stroke-width="0.45"/>
<line x1="137.2" y1="624.6" x2="201.0" y2="621.6" stroke="#c8c8c8" stroke-width="0.45"/>
<line x1="140.7" y1="626.0" x2="203.7" y2="612.5" stroke="#c8c8c8" stroke-width="0.45"/>
<line x1="146.8" y1="622.5" x2="208.0" y2="589.4" stroke="#c8c8c8" stroke-width="0.45"/>
<line x1="149.4" y1="623.4" x2="212.9" y2="581.9" stroke="#c8c8c8" stroke-width="0.45"/>
<line x1="153.8" y1="624.6" x2="215.9" y2="616.9" stroke="#c8c8c8" stroke-width="0.45"/>
<line x1="155.6" y1="626.9" x2="220.3" y2="596.3" stroke="#c8c8c8" stroke-width="0.45"/>
<line x1="132.0" y1="629.5" x2="222.0" y2="553.1" stroke="#c8c8c8" stroke-width="0.45"/>
<line x1="132.0" y1="630.4" x2="222.0" y2="625.7" stroke="#c8c8c8" stroke-width="0.45"/>
<line x1="132.0" y1="631.3" x2="199.3" y2="603.4" stroke="#c8c8c8" stroke-width="0.45"/>
<line x1="134.6" y1="630.4" x2="202.8" y2="609.0" stroke="#c8c8c8" stroke-width="0.45"/>
<line x1="138.1" y1="628.7" x2="209.8" y2="617.8" stroke="#c8c8c8" stroke-width="0.45"/>
<line x1="142.4" y1="627.8" x2="215.0" y2="605.9" stroke="#c8c8c8" stroke-width="0.45"/>
<line x1="146.8" y1="631.3" x2="220.3" y2="565.6" stroke="#c8c8c8" stroke-width="0.45"/>
<line x1="151.2" y1="632.2" x2="222.0" y2="630.9" stroke="#c8c8c8" stroke-width="0.45"/>
<line x1="132.0" y1="637.4" x2="222.0" y2="619.5" stroke="#c8c8c8" stroke-width="0.45"/>
<line x1="134.6" y1="636.5" x2="199.3" y2="595.0" stroke="#c8c8c8" stroke-width="0.45"/>
<line x1="137.2" y1="638.0" x2="204.9" y2="621.3" stroke="#c8c8c8" stroke-width="0.45"/>
<line x1="142.4" y1="633.4" x2="208.0" y2="612.5" stroke="#c8c8c8" stroke-width="0.45"/>
<line x1="152.9" y1="636.2" x2="215.0" y2="581.8" stroke="#c8c8c8" stroke-width="0.45"/>
<line x1="132.0" y1="640.1" x2="219.4" y2="616.0" stroke="#c8c8c8" stroke-width="0.45"/>
<line x1="136.3" y1="639.2" x2="222.0" y2="613.4" stroke="#c8c8c8" stroke-width="0.45"/>
<line x1="154.7" y1="641.8" x2="203.7" y2="595.9" stroke="#c8c8c8" stroke-width="0.45"/>
<line x1="132.0" y1="645.7" x2="207.7" y2="595.0" stroke="#c8c8c8" stroke-width="0.45"/>
<line x1="132.0" y1="647.1" x2="200.7" y2="591.2" stroke="#c8c8c8" stroke-width="0.45"/>
<line x1="145.9" y1="647.9" x2="198.9" y2="664.7" stroke="#c8c8c8" stroke-width="0.45"/>
<line x1="132.0" y1="650.2" x2="206.3" y2="605.9" stroke="#c8c8c8" stroke-width="0.45"/>
<line x1="146.8" y1="651.4" x2="211.9" y2="647.6" stroke="#c8c8c8" stroke-width="0.45"/>
<line x1="151.2" y1="649.2" x2="211.9" y2="616.9" stroke="#c8c8c8" stroke-width="0.45"/>
<line x1="145.1" y1="656.2" x2="221.7" y2="565.5" stroke="#c8c8c8" stroke-width="0.45"/>
<line x1="132.0" y1="583.5" x2="222.0" y2="571.4" stroke="#c8c8c8" stroke-width="0.45"/>
<line x1="132.0" y1="585.3" x2="222.0" y2="620.4" stroke="#c8c8c8" stroke-width="0.45"/>
<line x1="132.0" y1="590.9" x2="216.8" y2="627.4" stroke="#c8c8c8" stroke-width="0.45"/>
<line x1="135.0" y1="598.2" x2="218.8" y2="595.1" stroke="#c8c8c8" stroke-width="0.45"/>
<line x1="150.4" y1="597.5" x2="211.8" y2="644.1" stroke="#c8c8c8" stroke-width="0.45"/>
<path d="M135.80,562.90 C135.97,563.42 136.50,564.82 136.80,566.00 C137.10,567.18 137.18,567.87 137.60,570.00 C138.02,572.13 138.87,575.88 139.30,578.80 C139.73,581.72 140.23,584.58 140.20,587.50 C140.17,590.42 139.10,593.38 139.10,596.30 C139.10,599.22 138.42,602.08 140.20,605.00 C141.98,607.92 146.45,611.47 149.80,613.80 C153.15,616.13 157.03,617.02 160.30,619.00 C163.57,620.98 169.40,623.65 169.40,625.70 C169.40,627.75 163.85,629.50 160.30,631.30 C156.75,633.10 150.72,634.45 148.10,636.50 C145.48,638.55 145.48,641.25 144.60,643.60 C143.72,645.95 143.68,648.27 142.80,650.60 C141.92,652.93 140.30,655.57 139.30,657.60 C138.30,659.63 137.38,661.07 136.80,662.80 C136.22,664.53 135.97,667.13 135.80,668.00 L135.80,668.00 C135.63,667.13 135.38,664.53 134.80,662.80 C134.22,661.07 133.30,659.63 132.30,657.60 C131.30,655.57 129.68,652.93 128.80,650.60 C127.92,648.27 127.88,645.95 127.00,643.60 C126.12,641.25 126.12,638.55 123.50,636.50 C120.88,634.45 114.85,633.10 111.30,631.30 C107.75,629.50 102.20,627.75 102.20,625.70 C102.20,623.65 108.03,620.98 111.30,619.00 C114.57,617.02 118.45,616.13 121.80,613.80 C125.15,611.47 129.62,607.92 131.40,605.00 C133.18,602.08 132.50,599.22 132.50,596.30 C132.50,593.38 131.43,590.42 131.40,587.50 C131.37,584.58 131.87,581.72 132.30,578.80 C132.73,575.88 133.58,572.13 134.00,570.00 C134.42,567.87 134.50,567.18 134.80,566.00 C135.10,564.82 135.63,563.42 135.80,562.90 Z" fill="none" stroke="#333" stroke-width="0.8"/>
<path d="M218.30,535.60 C218.40,537.17 218.73,540.93 218.90,545.00 C219.07,549.07 219.18,556.03 219.30,560.00 C219.42,563.97 219.47,565.88 219.60,568.80 C219.73,571.72 219.30,574.58 220.10,577.50 C220.90,580.42 222.52,583.38 224.40,586.30 C226.28,589.22 229.35,592.08 231.40,595.00 C233.45,597.92 234.88,600.15 236.70,603.80 C238.52,607.45 242.15,613.40 242.30,616.90 C242.45,620.40 239.70,622.32 237.60,624.80 C235.50,627.28 231.90,629.47 229.70,631.80 C227.50,634.13 225.57,636.17 224.40,638.80 C223.23,641.43 223.42,644.97 222.70,647.60 C221.98,650.23 220.62,652.27 220.10,654.60 C219.58,656.93 219.82,659.27 219.60,661.60 C219.38,663.93 219.02,665.40 218.80,668.60 C218.58,671.80 218.38,678.77 218.30,680.80 L218.30,680.80 C218.22,678.77 218.02,671.80 217.80,668.60 C217.58,665.40 217.22,663.93 217.00,661.60 C216.78,659.27 217.02,656.93 216.50,654.60 C215.98,652.27 214.62,650.23 213.90,647.60 C213.18,644.97 213.37,641.43 212.20,638.80 C211.03,636.17 209.10,634.13 206.90,631.80 C204.70,629.47 201.10,627.28 199.00,624.80 C196.90,622.32 194.15,620.40 194.30,616.90 C194.45,613.40 198.08,607.45 199.90,603.80 C201.72,600.15 203.15,597.92 205.20,595.00 C207.25,592.08 210.32,589.22 212.20,586.30 C214.08,583.38 215.70,580.42 216.50,577.50 C217.30,574.58 216.87,571.72 217.00,568.80 C217.13,565.88 217.18,563.97 217.30,560.00 C217.42,556.03 217.53,549.07 217.70,545.00 C217.87,540.93 218.20,537.17 218.30,535.60 Z" fill="none" stroke="#333" stroke-width="0.8"/>
<circle cx="135.8" cy="575.3" r="2.1" fill="#0c3c7c"/>
<circle cx="126.2" cy="583.1" r="2.1" fill="#0c3c7c"/>
<circle cx="125.3" cy="585.4" r="2.1" fill="#0c3c7c"/>
<circle cx="122.2" cy="591.4" r="2.1" fill="#0c3c7c"/>
<circle cx="130.9" cy="598.4" r="2.1" fill="#0c3c7c"/>
<circle cx="146.3" cy="597.7" r="2.1" fill="#0c3c7c"/>
<circle cx="131.6" cy="605.9" r="2.1" fill="#0c3c7c"/>
<circle cx="136.7" cy="606.4" r="2.1" fill="#0c3c7c"/>
<circle cx="148.9" cy="605.6" r="2.1" fill="#0c3c7c"/>
<circle cx="125.3" cy="609.9" r="2.1" fill="#0c3c7c"/>
<circle cx="119.7" cy="614.3" r="2.1" fill="#0c3c7c"/>
<circle cx="134.9" cy="614.7" r="2.1" fill="#0c3c7c"/>
<circle cx="146.0" cy="614.8" r="2.1" fill="#0c3c7c"/>
<circle cx="123.6" cy="617.6" r="2.1" fill="#0c3c7c"/>
<circle cx="125.7" cy="616.9" r="2.1" fill="#0c3c7c"/>
<circle cx="129.7" cy="618.2" r="2.1" fill="#0c3c7c"/>
<circle cx="132.3" cy="620.8" r="2.1" fill="#0c3c7c"/>
<circle cx="127.1" cy="621.1" r="2.1" fill="#0c3c7c"/>
<circle cx="135.5" cy="621.1" r="2.1" fill="#0c3c7c"/>
<circle cx="144.6" cy="619.9" r="2.1" fill="#0c3c7c"/>
<circle cx="119.2" cy="625.7" r="2.1" fill="#0c3c7c"/>
<circle cx="121.8" cy="626.4" r="2.1" fill="#0c3c7c"/>
<circle cx="124.4" cy="626.9" r="2.1" fill="#0c3c7c"/>
<circle cx="127.1" cy="626.0" r="2.1" fill="#0c3c7c"/>
<circle cx="129.7" cy="625.7" r="2.1" fill="#0c3c7c"/>
<circle cx="133.2" cy="624.6" r="2.1" fill="#0c3c7c"/>
<circle cx="136.7" cy="626.0" r="2.1" fill="#0c3c7c"/>
<circle cx="142.8" cy="622.5" r="2.1" fill="#0c3c7c"/>
<circle cx="145.4" cy="623.4" r="2.1" fill="#0c3c7c"/>
<circle cx="149.8" cy="624.6" r="2.1" fill="#0c3c7c"/>
<circle cx="151.6" cy="626.9" r="2.1" fill="#0c3c7c"/>
<circle cx="120.1" cy="629.5" r="2.1" fill="#0c3c7c"/>
<circle cx="123.6" cy="630.4" r="2.1" fill="#0c3c7c"/>
<circle cx="126.2" cy="631.3" r="2.1" fill="#0c3c7c"/>
<circle cx="130.6" cy="630.4" r="2.1" fill="#0c3c7c"/>
<circle cx="134.1" cy="628.7" r="2.1" fill="#0c3c7c"/>
<circle cx="138.4" cy="627.8" r="2.1" fill="#0c3c7c"/>
<circle cx="142.8" cy="631.3" r="2.1" fill="#0c3c7c"/>
<circle cx="147.2" cy="632.2" r="2.1" fill="#0c3c7c"/>
<circle cx="123.6" cy="637.4" r="2.1" fill="#0c3c7c"/>
<circle cx="130.6" cy="636.5" r="2.1" fill="#0c3c7c"/>
<circle cx="133.2" cy="638.0" r="2.1" fill="#0c3c7c"/>
<circle cx="138.4" cy="633.4" r="2.1" fill="#0c3c7c"/>
<circle cx="148.9" cy="636.2" r="2.1" fill="#0c3c7c"/>
<circle cx="122.7" cy="640.1" r="2.1" fill="#0c3c7c"/>
<circle cx="132.3" cy="639.2" r="2.1" fill="#0c3c7c"/>
<circle cx="150.7" cy="641.8" r="2.1" fill="#0c3c7c"/>
<circle cx="122.7" cy="645.7" r="2.1" fill="#0c3c7c"/>
<circle cx="127.9" cy="647.1" r="2.1" fill="#0c3c7c"/>
<circle cx="141.9" cy="647.9" r="2.1" fill="#0c3c7c"/>
<circle cx="125.3" cy="650.2" r="2.1" fill="#0c3c7c"/>
<circle cx="142.8" cy="651.4" r="2.1" fill="#0c3c7c"/>
<circle cx="147.2" cy="649.2" r="2.1" fill="#0c3c7c"/>
<circle cx="141.1" cy="656.2" r="2.1" fill="#0c3c7c"/>
<circle cx="125.8" cy="583.5" r="2.1" fill="#0c3c7c"/>
<circle cx="125.8" cy="585.3" r="2.1" fill="#0c3c7c"/>
<circle cx="122.3" cy="590.9" r="2.1" fill="#0c3c7c"/>
<circle cx="131.0" cy="598.2" r="2.1" fill="#0c3c7c"/>
<circle cx="146.4" cy="597.5" r="2.1" fill="#0c3c7c"/>
<circle cx="215.9" cy="565.6" r="1.7" fill="#bcd1e8" stroke="#5282bb" stroke-width="0.75"/>
<circle cx="209.9" cy="571.4" r="1.7" fill="#bcd1e8" stroke="#5282bb" stroke-width="0.75"/>
<circle cx="226.9" cy="581.9" r="1.7" fill="#bcd1e8" stroke="#5282bb" stroke-width="0.75"/>
<circle cx="203.6" cy="591.2" r="1.7" fill="#bcd1e8" stroke="#5282bb" stroke-width="0.75"/>
<circle cx="216.9" cy="589.4" r="1.7" fill="#bcd1e8" stroke="#5282bb" stroke-width="0.75"/>
<circle cx="201.9" cy="596.8" r="1.7" fill="#bcd1e8" stroke="#5282bb" stroke-width="0.75"/>
<circle cx="211.7" cy="595.0" r="1.7" fill="#bcd1e8" stroke="#5282bb" stroke-width="0.75"/>
<circle cx="219.9" cy="595.9" r="1.7" fill="#bcd1e8" stroke="#5282bb" stroke-width="0.75"/>
<circle cx="220.8" cy="598.9" r="1.7" fill="#bcd1e8" stroke="#5282bb" stroke-width="0.75"/>
<circle cx="213.8" cy="597.7" r="1.7" fill="#bcd1e8" stroke="#5282bb" stroke-width="0.75"/>
<circle cx="232.7" cy="595.0" r="1.7" fill="#bcd1e8" stroke="#5282bb" stroke-width="0.75"/>
<circle cx="204.7" cy="603.4" r="1.7" fill="#bcd1e8" stroke="#5282bb" stroke-width="0.75"/>
<circle cx="207.7" cy="604.7" r="1.7" fill="#bcd1e8" stroke="#5282bb" stroke-width="0.75"/>
<circle cx="210.3" cy="605.9" r="1.7" fill="#bcd1e8" stroke="#5282bb" stroke-width="0.75"/>
<circle cx="214.7" cy="606.4" r="1.7" fill="#bcd1e8" stroke="#5282bb" stroke-width="0.75"/>
<circle cx="219.9" cy="605.9" r="1.7" fill="#bcd1e8" stroke="#5282bb" stroke-width="0.75"/>
<circle cx="222.5" cy="607.3" r="1.7" fill="#bcd1e8" stroke="#5282bb" stroke-width="0.75"/>
<circle cx="226.0" cy="609.0" r="1.7" fill="#bcd1e8" stroke="#5282bb" stroke-width="0.75"/>
<circle cx="205.0" cy="610.8" r="1.7" fill="#bcd1e8" stroke="#5282bb" stroke-width="0.75"/>
<circle cx="208.9" cy="612.5" r="1.7" fill="#bcd1e8" stroke="#5282bb" stroke-width="0.75"/>
<circle cx="213.8" cy="614.3" r="1.7" fill="#bcd1e8" stroke="#5282bb" stroke-width="0.75"/>
<circle cx="217.3" cy="613.4" r="1.7" fill="#bcd1e8" stroke="#5282bb" stroke-width="0.75"/>
<circle cx="220.8" cy="612.5" r="1.7" fill="#bcd1e8" stroke="#5282bb" stroke-width="0.75"/>
<circle cx="230.4" cy="613.4" r="1.7" fill="#bcd1e8" stroke="#5282bb" stroke-width="0.75"/>
<circle cx="233.0" cy="612.5" r="1.7" fill="#bcd1e8" stroke="#5282bb" stroke-width="0.75"/>
<circle cx="205.0" cy="616.9" r="1.7" fill="#bcd1e8" stroke="#5282bb" stroke-width="0.75"/>
<circle cx="207.7" cy="617.8" r="1.7" fill="#bcd1e8" stroke="#5282bb" stroke-width="0.75"/>
<circle cx="212.0" cy="616.0" r="1.7" fill="#bcd1e8" stroke="#5282bb" stroke-width="0.75"/>
<circle cx="216.9" cy="616.0" r="1.7" fill="#bcd1e8" stroke="#5282bb" stroke-width="0.75"/>
<circle cx="219.9" cy="616.9" r="1.7" fill="#bcd1e8" stroke="#5282bb" stroke-width="0.75"/>
<circle cx="224.3" cy="616.0" r="1.7" fill="#bcd1e8" stroke="#5282bb" stroke-width="0.75"/>
<circle cx="228.7" cy="615.7" r="1.7" fill="#bcd1e8" stroke="#5282bb" stroke-width="0.75"/>
<circle cx="233.9" cy="618.7" r="1.7" fill="#bcd1e8" stroke="#5282bb" stroke-width="0.75"/>
<circle cx="203.3" cy="620.4" r="1.7" fill="#bcd1e8" stroke="#5282bb" stroke-width="0.75"/>
<circle cx="206.8" cy="621.3" r="1.7" fill="#bcd1e8" stroke="#5282bb" stroke-width="0.75"/>
<circle cx="213.8" cy="621.6" r="1.7" fill="#bcd1e8" stroke="#5282bb" stroke-width="0.75"/>
<circle cx="219.0" cy="619.5" r="1.7" fill="#bcd1e8" stroke="#5282bb" stroke-width="0.75"/>
<circle cx="224.3" cy="621.3" r="1.7" fill="#bcd1e8" stroke="#5282bb" stroke-width="0.75"/>
<circle cx="230.4" cy="623.0" r="1.7" fill="#bcd1e8" stroke="#5282bb" stroke-width="0.75"/>
<circle cx="233.0" cy="624.8" r="1.7" fill="#bcd1e8" stroke="#5282bb" stroke-width="0.75"/>
<circle cx="203.3" cy="628.3" r="1.7" fill="#bcd1e8" stroke="#5282bb" stroke-width="0.75"/>
<circle cx="208.9" cy="627.4" r="1.7" fill="#bcd1e8" stroke="#5282bb" stroke-width="0.75"/>
<circle cx="212.0" cy="625.7" r="1.7" fill="#bcd1e8" stroke="#5282bb" stroke-width="0.75"/>
<circle cx="219.0" cy="630.9" r="1.7" fill="#bcd1e8" stroke="#5282bb" stroke-width="0.75"/>
<circle cx="223.4" cy="624.8" r="1.7" fill="#bcd1e8" stroke="#5282bb" stroke-width="0.75"/>
<circle cx="232.2" cy="629.2" r="1.7" fill="#bcd1e8" stroke="#5282bb" stroke-width="0.75"/>
<circle cx="207.7" cy="635.0" r="1.7" fill="#bcd1e8" stroke="#5282bb" stroke-width="0.75"/>
<circle cx="211.7" cy="637.9" r="1.7" fill="#bcd1e8" stroke="#5282bb" stroke-width="0.75"/>
<circle cx="204.7" cy="638.8" r="1.7" fill="#bcd1e8" stroke="#5282bb" stroke-width="0.75"/>
<circle cx="202.9" cy="647.6" r="1.7" fill="#bcd1e8" stroke="#5282bb" stroke-width="0.75"/>
<circle cx="210.3" cy="646.2" r="1.7" fill="#bcd1e8" stroke="#5282bb" stroke-width="0.75"/>
<circle cx="215.9" cy="645.8" r="1.7" fill="#bcd1e8" stroke="#5282bb" stroke-width="0.75"/>
<circle cx="215.9" cy="647.9" r="1.7" fill="#bcd1e8" stroke="#5282bb" stroke-width="0.75"/>
<circle cx="225.7" cy="644.1" r="1.7" fill="#bcd1e8" stroke="#5282bb" stroke-width="0.75"/>
<circle cx="228.1" cy="649.7" r="1.7" fill="#bcd1e8" stroke="#5282bb" stroke-width="0.75"/>
<circle cx="227.8" cy="654.0" r="1.7" fill="#bcd1e8" stroke="#5282bb" stroke-width="0.75"/>
<circle cx="220.8" cy="664.7" r="1.7" fill="#bcd1e8" stroke="#5282bb" stroke-width="0.75"/>
<circle cx="222.8" cy="553.1" r="1.7" fill="#bcd1e8" stroke="#5282bb" stroke-width="0.75"/>
<circle cx="215.8" cy="565.5" r="1.7" fill="#bcd1e8" stroke="#5282bb" stroke-width="0.75"/>
<circle cx="210.0" cy="571.3" r="1.7" fill="#bcd1e8" stroke="#5282bb" stroke-width="0.75"/>
<circle cx="227.0" cy="581.8" r="1.7" fill="#bcd1e8" stroke="#5282bb" stroke-width="0.75"/>
<circle cx="203.4" cy="590.9" r="1.7" fill="#bcd1e8" stroke="#5282bb" stroke-width="0.75"/>
<circle cx="232.9" cy="595.1" r="1.7" fill="#bcd1e8" stroke="#5282bb" stroke-width="0.75"/>
<circle cx="201.8" cy="596.3" r="1.7" fill="#bcd1e8" stroke="#5282bb" stroke-width="0.75"/>
<path d="M132.5,621 L139,621 M135.8,621 L135.8,630 M132.5,630 L139,630" stroke="#333" stroke-width="0.7"/>
<path d="M215,611 L221.5,611 M218.3,611 L218.3,622 M215,622 L221.5,622" stroke="#333" stroke-width="0.7"/>
</g><g id="panelE">
<path d="M505.4,480.0 L505.8,605.9 M408.3,650.9 L505.8,605.9 M505.8,605.9 L615.6,642.7" stroke="#222" stroke-width="0.8" fill="none"/>
<circle cx="452.1" cy="500.0" r="3.1" fill="#e2452b" stroke="#1d1d1d" stroke-width="0.6"/>
<circle cx="441.9" cy="524.3" r="3.1" fill="#4ab6d6" stroke="#1d1d1d" stroke-width="0.6"/>
<circle cx="461.1" cy="527.6" r="3.1" fill="#e2452b" stroke="#1d1d1d" stroke-width="0.6"/>
<circle cx="475.3" cy="543.1" r="3.1" fill="#e2452b" stroke="#1d1d1d" stroke-width="0.6"/>
<circle cx="496.5" cy="545.5" r="3.1" fill="#4ab6d6" stroke="#1d1d1d" stroke-width="0.6"/>
<circle cx="435.1" cy="557.2" r="3.1" fill="#e2452b" stroke="#1d1d1d" stroke-width="0.6"/>
<circle cx="434.2" cy="562.6" r="3.1" fill="#e2452b" stroke="#1d1d1d" stroke-width="0.6"/>
<circle cx="414.2" cy="563.9" r="3.1" fill="#4ab6d6" stroke="#1d1d1d" stroke-width="0.6"/>
<circle cx="461.6" cy="568.5" r="3.1" fill="#e2452b" stroke="#1d1d1d" stroke-width="0.6"/>
<circle cx="477.5" cy="567.0" r="3.1" fill="#e2452b" stroke="#1d1d1d" stroke-width="0.6"/>
<circle cx="476.8" cy="574.3" r="3.1" fill="#e2452b" stroke="#1d1d1d" stroke-width="0.6"/>
<circle cx="488.1" cy="573.4" r="3.1" fill="#4ab6d6" stroke="#1d1d1d" stroke-width="0.6"/>
<circle cx="495.7" cy="576.5" r="3.1" fill="#4ab6d6" stroke="#1d1d1d" stroke-width="0.6"/>
<circle cx="416.5" cy="578.5" r="3.1" fill="#e2452b" stroke="#1d1d1d" stroke-width="0.6"/>
<circle cx="425.7" cy="578.5" r="3.1" fill="#e2452b" stroke="#1d1d1d" stroke-width="0.6"/>
<circle cx="441.5" cy="577.2" r="3.1" fill="#e2452b" stroke="#1d1d1d" stroke-width="0.6"/>
<circle cx="451.2" cy="579.8" r="3.1" fill="#4ab6d6" stroke="#1d1d1d" stroke-width="0.6"/>
<circle cx="456.1" cy="581.2" r="3.1" fill="#4ab6d6" stroke="#1d1d1d" stroke-width="0.6"/>
<circle cx="427.8" cy="582.7" r="3.1" fill="#4ab6d6" stroke="#1d1d1d" stroke-width="0.6"/>
<circle cx="432.8" cy="584.0" r="3.1" fill="#e2452b" stroke="#1d1d1d" stroke-width="0.6"/>
<circle cx="409.1" cy="584.3" r="3.1" fill="#e2452b" stroke="#1d1d1d" stroke-width="0.6"/>
<circle cx="478.6" cy="584.3" r="3.1" fill="#4ab6d6" stroke="#1d1d1d" stroke-width="0.6"/>
<circle cx="489.9" cy="584.3" r="3.1" fill="#4ab6d6" stroke="#1d1d1d" stroke-width="0.6"/>
<circle cx="477.1" cy="588.5" r="3.1" fill="#e2452b" stroke="#1d1d1d" stroke-width="0.6"/>
<circle cx="422.0" cy="590.0" r="3.1" fill="#4ab6d6" stroke="#1d1d1d" stroke-width="0.6"/>
<circle cx="434.8" cy="590.0" r="3.1" fill="#e2452b" stroke="#1d1d1d" stroke-width="0.6"/>
<circle cx="441.5" cy="590.0" r="3.1" fill="#e2452b" stroke="#1d1d1d" stroke-width="0.6"/>
<circle cx="440.3" cy="592.6" r="3.1" fill="#4ab6d6" stroke="#1d1d1d" stroke-width="0.6"/>
<circle cx="420.5" cy="594.4" r="3.1" fill="#e2452b" stroke="#1d1d1d" stroke-width="0.6"/>
<circle cx="433.3" cy="595.1" r="3.1" fill="#e2452b" stroke="#1d1d1d" stroke-width="0.6"/>
<circle cx="504.5" cy="592.6" r="3.1" fill="#e2452b" stroke="#1d1d1d" stroke-width="0.6"/>
<circle cx="451.2" cy="600.0" r="3.1" fill="#4ab6d6" stroke="#1d1d1d" stroke-width="0.6"/>
<circle cx="449.2" cy="605.3" r="3.1" fill="#4ab6d6" stroke="#1d1d1d" stroke-width="0.6"/>
<circle cx="410.5" cy="610.1" r="3.1" fill="#4ab6d6" stroke="#1d1d1d" stroke-width="0.6"/>
<circle cx="444.3" cy="614.5" r="3.1" fill="#4ab6d6" stroke="#1d1d1d" stroke-width="0.6"/>
<circle cx="482.6" cy="607.7" r="3.1" fill="#e2452b" stroke="#1d1d1d" stroke-width="0.6"/>
<circle cx="484.4" cy="611.4" r="3.1" fill="#4ab6d6" stroke="#1d1d1d" stroke-width="0.6"/>
<circle cx="489.0" cy="612.6" r="3.1" fill="#e2452b" stroke="#1d1d1d" stroke-width="0.6"/>
<circle cx="487.2" cy="616.3" r="3.1" fill="#e2452b" stroke="#1d1d1d" stroke-width="0.6"/>
<circle cx="502.7" cy="615.9" r="3.1" fill="#4ab6d6" stroke="#1d1d1d" stroke-width="0.6"/>
<circle cx="510.3" cy="615.2" r="3.1" fill="#e2452b" stroke="#1d1d1d" stroke-width="0.6"/>
<circle cx="521.8" cy="540.5" r="3.1" fill="#e2452b" stroke="#1d1d1d" stroke-width="0.6"/>
<circle cx="538.0" cy="546.9" r="3.1" fill="#4ab6d6" stroke="#1d1d1d" stroke-width="0.6"/>
<circle cx="561.1" cy="548.8" r="3.1" fill="#e2452b" stroke="#1d1d1d" stroke-width="0.6"/>
<circle cx="598.3" cy="534.8" r="3.1" fill="#e2452b" stroke="#1d1d1d" stroke-width="0.6"/>
<circle cx="622.0" cy="544.5" r="3.1" fill="#4ab6d6" stroke="#1d1d1d" stroke-width="0.6"/>
<circle cx="528.5" cy="564.6" r="3.1" fill="#e2452b" stroke="#1d1d1d" stroke-width="0.6"/>
<circle cx="529.4" cy="567.8" r="3.1" fill="#4ab6d6" stroke="#1d1d1d" stroke-width="0.6"/>
<circle cx="545.2" cy="567.0" r="3.1" fill="#e2452b" stroke="#1d1d1d" stroke-width="0.6"/>
<circle cx="592.2" cy="568.9" r="3.1" fill="#4ab6d6" stroke="#1d1d1d" stroke-width="0.6"/>
<circle cx="574.0" cy="576.3" r="3.1" fill="#4ab6d6" stroke="#1d1d1d" stroke-width="0.6"/>
<circle cx="528.1" cy="578.8" r="3.1" fill="#e2452b" stroke="#1d1d1d" stroke-width="0.6"/>
<circle cx="518.4" cy="580.7" r="3.1" fill="#4ab6d6" stroke="#1d1d1d" stroke-width="0.6"/>
<circle cx="522.4" cy="587.2" r="3.1" fill="#e2452b" stroke="#1d1d1d" stroke-width="0.6"/>
<circle cx="528.8" cy="587.7" r="3.1" fill="#e2452b" stroke="#1d1d1d" stroke-width="0.6"/>
<circle cx="518.0" cy="590.0" r="3.1" fill="#4ab6d6" stroke="#1d1d1d" stroke-width="0.6"/>
<circle cx="558.4" cy="582.2" r="3.1" fill="#e2452b" stroke="#1d1d1d" stroke-width="0.6"/>
<circle cx="542.7" cy="593.4" r="3.1" fill="#e2452b" stroke="#1d1d1d" stroke-width="0.6"/>
<circle cx="558.4" cy="592.8" r="3.1" fill="#e2452b" stroke="#1d1d1d" stroke-width="0.6"/>
<circle cx="566.0" cy="591.5" r="3.1" fill="#e2452b" stroke="#1d1d1d" stroke-width="0.6"/>
<circle cx="605.9" cy="590.0" r="3.1" fill="#e2452b" stroke="#1d1d1d" stroke-width="0.6"/>
<circle cx="615.2" cy="591.1" r="3.1" fill="#e2452b" stroke="#1d1d1d" stroke-width="0.6"/>
<circle cx="556.9" cy="598.5" r="3.1" fill="#e2452b" stroke="#1d1d1d" stroke-width="0.6"/>
<circle cx="547.1" cy="601.2" r="3.1" fill="#4ab6d6" stroke="#1d1d1d" stroke-width="0.6"/>
<circle cx="580.5" cy="602.3" r="3.1" fill="#e2452b" stroke="#1d1d1d" stroke-width="0.6"/>
<circle cx="593.0" cy="609.5" r="3.1" fill="#4ab6d6" stroke="#1d1d1d" stroke-width="0.6"/>
<circle cx="518.6" cy="606.1" r="3.1" fill="#e2452b" stroke="#1d1d1d" stroke-width="0.6"/>
<circle cx="520.5" cy="606.3" r="3.1" fill="#4ab6d6" stroke="#1d1d1d" stroke-width="0.6"/>
<circle cx="533.8" cy="606.7" r="3.1" fill="#4ab6d6" stroke="#1d1d1d" stroke-width="0.6"/>
<circle cx="538.0" cy="605.7" r="3.1" fill="#4ab6d6" stroke="#1d1d1d" stroke-width="0.6"/>
<circle cx="542.1" cy="605.2" r="3.1" fill="#e2452b" stroke="#1d1d1d" stroke-width="0.6"/>
<circle cx="532.3" cy="611.4" r="3.1" fill="#e2452b" stroke="#1d1d1d" stroke-width="0.6"/>
<circle cx="539.8" cy="610.1" r="3.1" fill="#e2452b" stroke="#1d1d1d" stroke-width="0.6"/>
<circle cx="544.6" cy="610.9" r="3.1" fill="#e2452b" stroke="#1d1d1d" stroke-width="0.6"/>
<circle cx="548.4" cy="610.1" r="3.1" fill="#e2452b" stroke="#1d1d1d" stroke-width="0.6"/>
<circle cx="554.1" cy="611.1" r="3.1" fill="#4ab6d6" stroke="#1d1d1d" stroke-width="0.6"/>
<circle cx="531.3" cy="614.7" r="3.1" fill="#4ab6d6" stroke="#1d1d1d" stroke-width="0.6"/>
<circle cx="537.0" cy="614.3" r="3.1" fill="#4ab6d6" stroke="#1d1d1d" stroke-width="0.6"/>
<circle cx="540.8" cy="614.3" r="3.1" fill="#e2452b" stroke="#1d1d1d" stroke-width="0.6"/>
<circle cx="545.5" cy="615.2" r="3.1" fill="#4ab6d6" stroke="#1d1d1d" stroke-width="0.6"/>
<circle cx="552.2" cy="615.2" r="3.1" fill="#e2452b" stroke="#1d1d1d" stroke-width="0.6"/>
<circle cx="564.5" cy="614.9" r="3.1" fill="#e2452b" stroke="#1d1d1d" stroke-width="0.6"/>
<circle cx="576.9" cy="616.8" r="3.1" fill="#4ab6d6" stroke="#1d1d1d" stroke-width="0.6"/>
<circle cx="592.0" cy="619.4" r="3.1" fill="#4ab6d6" stroke="#1d1d1d" stroke-width="0.6"/>
<circle cx="518.0" cy="613.0" r="3.1" fill="#e2452b" stroke="#1d1d1d" stroke-width="0.6"/>
<circle cx="414.8" cy="625.6" r="3.1" fill="#e2452b" stroke="#1d1d1d" stroke-width="0.6"/>
<circle cx="424.1" cy="624.7" r="3.1" fill="#4ab6d6" stroke="#1d1d1d" stroke-width="0.6"/>
<circle cx="437.0" cy="626.9" r="3.1" fill="#e2452b" stroke="#1d1d1d" stroke-width="0.6"/>
<circle cx="428.5" cy="641.4" r="3.1" fill="#e2452b" stroke="#1d1d1d" stroke-width="0.6"/>
<circle cx="486.9" cy="621.3" r="3.1" fill="#e2452b" stroke="#1d1d1d" stroke-width="0.6"/>
<circle cx="479.7" cy="623.7" r="3.1" fill="#4ab6d6" stroke="#1d1d1d" stroke-width="0.6"/>
<circle cx="493.9" cy="621.3" r="3.1" fill="#e2452b" stroke="#1d1d1d" stroke-width="0.6"/>
<circle cx="506.3" cy="618.6" r="3.1" fill="#4ab6d6" stroke="#1d1d1d" stroke-width="0.6"/>
<circle cx="517.6" cy="619.0" r="3.1" fill="#4ab6d6" stroke="#1d1d1d" stroke-width="0.6"/>
<circle cx="514.8" cy="622.4" r="3.1" fill="#e2452b" stroke="#1d1d1d" stroke-width="0.6"/>
<circle cx="500.6" cy="622.8" r="3.1" fill="#e2452b" stroke="#1d1d1d" stroke-width="0.6"/>
<circle cx="490.7" cy="626.9" r="3.1" fill="#4ab6d6" stroke="#1d1d1d" stroke-width="0.6"/>
<circle cx="497.2" cy="628.1" r="3.1" fill="#4ab6d6" stroke="#1d1d1d" stroke-width="0.6"/>
<circle cx="502.5" cy="629.4" r="3.1" fill="#4ab6d6" stroke="#1d1d1d" stroke-width="0.6"/>
<circle cx="482.0" cy="637.6" r="3.1" fill="#4ab6d6" stroke="#1d1d1d" stroke-width="0.6"/>
<circle cx="477.8" cy="644.6" r="3.1" fill="#4ab6d6" stroke="#1d1d1d" stroke-width="0.6"/>
<circle cx="482.5" cy="646.5" r="3.1" fill="#4ab6d6" stroke="#1d1d1d" stroke-width="0.6"/>
<circle cx="516.7" cy="632.6" r="3.1" fill="#4ab6d6" stroke="#1d1d1d" stroke-width="0.6"/>
<circle cx="523.0" cy="632.3" r="3.1" fill="#e2452b" stroke="#1d1d1d" stroke-width="0.6"/>
<circle cx="528.1" cy="631.9" r="3.1" fill="#e2452b" stroke="#1d1d1d" stroke-width="0.6"/>
<circle cx="512.9" cy="639.5" r="3.1" fill="#4ab6d6" stroke="#1d1d1d" stroke-width="0.6"/>
<circle cx="508.5" cy="643.3" r="3.1" fill="#4ab6d6" stroke="#1d1d1d" stroke-width="0.6"/>
<circle cx="512.9" cy="647.4" r="3.1" fill="#4ab6d6" stroke="#1d1d1d" stroke-width="0.6"/>
<circle cx="510.1" cy="650.3" r="3.1" fill="#4ab6d6" stroke="#1d1d1d" stroke-width="0.6"/>
<circle cx="513.9" cy="650.3" r="3.1" fill="#e2452b" stroke="#1d1d1d" stroke-width="0.6"/>
<circle cx="486.3" cy="655.4" r="3.1" fill="#e2452b" stroke="#1d1d1d" stroke-width="0.6"/>
<circle cx="490.1" cy="653.5" r="3.1" fill="#4ab6d6" stroke="#1d1d1d" stroke-width="0.6"/>
<circle cx="491.7" cy="658.4" r="3.1" fill="#4ab6d6" stroke="#1d1d1d" stroke-width="0.6"/>
<circle cx="510.1" cy="665.5" r="3.1" fill="#e2452b" stroke="#1d1d1d" stroke-width="0.6"/>
<circle cx="505.9" cy="670.2" r="3.1" fill="#e2452b" stroke="#1d1d1d" stroke-width="0.6"/>
<circle cx="525.6" cy="667.4" r="3.1" fill="#4ab6d6" stroke="#1d1d1d" stroke-width="0.6"/>
<circle cx="545.4" cy="617.3" r="3.1" fill="#e2452b" stroke="#1d1d1d" stroke-width="0.6"/>
<circle cx="557.7" cy="619.2" r="3.1" fill="#4ab6d6" stroke="#1d1d1d" stroke-width="0.6"/>
<circle cx="534.8" cy="624.0" r="3.1" fill="#e2452b" stroke="#1d1d1d" stroke-width="0.6"/>
<circle cx="538.9" cy="625.3" r="3.1" fill="#4ab6d6" stroke="#1d1d1d" stroke-width="0.6"/>
<circle cx="542.5" cy="621.8" r="3.1" fill="#4ab6d6" stroke="#1d1d1d" stroke-width="0.6"/>
<circle cx="563.7" cy="623.7" r="3.1" fill="#4ab6d6" stroke="#1d1d1d" stroke-width="0.6"/>
<circle cx="547.3" cy="632.6" r="3.1" fill="#e2452b" stroke="#1d1d1d" stroke-width="0.6"/>
<circle cx="579.4" cy="633.0" r="3.1" fill="#4ab6d6" stroke="#1d1d1d" stroke-width="0.6"/>
<circle cx="554.5" cy="640.1" r="3.1" fill="#4ab6d6" stroke="#1d1d1d" stroke-width="0.6"/>
<circle cx="540.1" cy="646.2" r="3.1" fill="#e2452b" stroke="#1d1d1d" stroke-width="0.6"/>
<circle cx="536.1" cy="658.7" r="3.1" fill="#4ab6d6" stroke="#1d1d1d" stroke-width="0.6"/>
<circle cx="550.5" cy="657.1" r="3.1" fill="#4ab6d6" stroke="#1d1d1d" stroke-width="0.6"/>
<circle cx="547.6" cy="665.2" r="3.1" fill="#e2452b" stroke="#1d1d1d" stroke-width="0.6"/>
<circle cx="548.6" cy="672.7" r="3.1" fill="#e2452b" stroke="#1d1d1d" stroke-width="0.6"/>
<path d="M398.3,504.1 L505.4,480.0 M505.4,480.0 L624.8,499.8 M624.8,499.8 L525.7,532.2 M525.7,532.2 L398.3,504.1 M398.3,504.1 L408.3,650.9 M624.8,499.8 L615.6,642.7 M525.7,532.2 L524.3,702.1 M408.3,650.9 L524.3,702.1 M524.3,702.1 L615.6,642.7" stroke="#222" stroke-width="0.8" fill="none"/>
<line x1="393.9" y1="541" x2="400.6" y2="541" stroke="#222" stroke-width="0.8"/>
<text class="sans" x="386.9" y="544.6" font-size="10" fill="#111" text-anchor="middle">2</text>
<line x1="396.6" y1="579.6" x2="403.4" y2="579.6" stroke="#222" stroke-width="0.8"/>
<text class="sans" x="389.8" y="583.2" font-size="10" fill="#111" text-anchor="middle">1</text>
<line x1="399.6" y1="616.7" x2="406.5" y2="616.7" stroke="#222" stroke-width="0.8"/>
<text class="sans" x="392.7" y="620.3000000000001" font-size="10" fill="#111" text-anchor="middle">0</text>
<text class="sans" transform="translate(378,593.3) rotate(90)" font-size="9.8" fill="#111" text-anchor="middle">OIRR (mm)</text>
<line x1="408.3" y1="650.9" x2="405.3" y2="656.9" stroke="#222" stroke-width="0.8"/>
<line x1="427.6" y1="659.4" x2="424.6" y2="665.4" stroke="#222" stroke-width="0.8"/>
<line x1="447.0" y1="668.0" x2="444.0" y2="674.0" stroke="#222" stroke-width="0.8"/>
<line x1="466.3" y1="676.5" x2="463.3" y2="682.5" stroke="#222" stroke-width="0.8"/>
<line x1="485.6" y1="685.0" x2="482.6" y2="691.0" stroke="#222" stroke-width="0.8"/>
<line x1="505.0" y1="693.6" x2="502.0" y2="699.6" stroke="#222" stroke-width="0.8"/>
<line x1="524.3" y1="702.1" x2="521.3" y2="708.1" stroke="#222" stroke-width="0.8"/>
<text class="sans" x="401.3" y="666.0" font-size="10" fill="#111" text-anchor="middle">1</text>
<text class="sans" x="418.5" y="674.3000000000001" font-size="10" fill="#111" text-anchor="middle">2</text>
<text class="sans" x="435.7" y="682.3000000000001" font-size="10" fill="#111" text-anchor="middle">3</text>
<text class="sans" x="454.2" y="691.2" font-size="10" fill="#111" text-anchor="middle">4</text>
<text class="sans" x="473.6" y="699.6" font-size="10" fill="#111" text-anchor="middle">5</text>
<text class="sans" x="494.5" y="709.2" font-size="10" fill="#111" text-anchor="middle">6</text>
<text class="sans" x="516.4" y="719.9" font-size="10" fill="#111" text-anchor="middle">7</text>
<text class="sans" transform="translate(448.5,699) rotate(25.5)" font-size="10.5" fill="#111" text-anchor="middle">Tooth position</text>
<line x1="554.5" y1="682.3" x2="558.5" y2="688.0" stroke="#222" stroke-width="0.8"/>
<text class="sans" x="562" y="698.3000000000001" font-size="10" fill="#111" text-anchor="middle">2</text>
<line x1="582.6" y1="664.7" x2="586.6" y2="670.4000000000001" stroke="#222" stroke-width="0.8"/>
<text class="sans" x="589.4" y="679.5" font-size="10" fill="#111" text-anchor="middle">4</text>
<line x1="607.5" y1="648.6" x2="611.5" y2="654.3000000000001" stroke="#222" stroke-width="0.8"/>
<text class="sans" x="614.4" y="662.6" font-size="10" fill="#111" text-anchor="middle">6</text>
<text class="sans" transform="translate(606.5,680) rotate(-37.3)" font-size="10.5" fill="#111" text-anchor="middle">Distance (mm)</text>
<text class="sans" x="644" y="580" font-size="10" fill="#111">Group</text>
<circle cx="645.8" cy="591.6" r="2.6" fill="#4ab6d6" stroke="#1d1d1d" stroke-width="0.6"/>
<text class="sans" x="654.5" y="595.3" font-size="10.5" fill="#111">RFT</text>
<circle cx="645.8" cy="603" r="2.6" fill="#e2452b" stroke="#1d1d1d" stroke-width="0.6"/>
<text class="sans" x="654.5" y="606.7" font-size="10.5" fill="#111">VPT</text>
</g><defs><clipPath id="cp1"><rect x="0" y="0" width="226" height="153"/></clipPath><clipPath id="cpi1"><rect x="0" y="0" width="84" height="84"/></clipPath><clipPath id="cp2"><rect x="0" y="0" width="226" height="153.5"/></clipPath><clipPath id="cpi2"><rect x="0" y="0" width="86" height="85.5"/></clipPath><clipPath id="cp3"><rect x="0" y="0" width="225" height="152.5"/></clipPath><clipPath id="cpi3"><rect x="0" y="0" width="86" height="89"/></clipPath><clipPath id="cp4"><rect x="0" y="0" width="226" height="153.3"/></clipPath><clipPath id="cpi4"><rect x="0" y="0" width="86" height="89"/></clipPath></defs>
<g transform="translate(167,740)" clip-path="url(#cp1)">
<rect width="226" height="153" fill="#5c5c5c"/>
<g filter="url(#b2)">
<rect x="84" y="-6" width="150" height="40" fill="#6c6c6c"/>
<path d="M84,-6 L92,-6 L92,40 L84,40 Z" fill="#4e4e4e"/>
<path d="M205,-6 L232,-6 L232,22 Q215,15 205,-6 Z" fill="#3a3a3a"/>
<path d="M91,-6 L116,-6 L118,30 L90,30 Z" fill="#8c8c8c"/>
<path d="M160,-6 L178,-6 L190,35 L170,35 Z" fill="#8a8a8a"/>
<path d="M180,-6 L200,-6 L214,38 L192,38 Z" fill="#909090"/>
<path d="M200,0 L215,0 L228,40 L210,40 Z" fill="#8e8e8e"/>
<path d="M133,5 L145,5 L146,35 L132,35 Z" fill="#7c7c7c"/>
<path d="M119,26 L131,26 L131,56 L119,56 Z" fill="#1e1e1e"/>
<path d="M148,28 L155,28 L156,62 L148,62 Z" fill="#1a1a1a"/>
<path d="M172,36 L198,36 L198,62 L172,60 Z" fill="#151515"/>
<path d="M120,52 L232,56 L232,64 L120,62 Z" fill="#222"/>
<rect x="217" y="62" width="14" height="100" fill="#242424"/>
<path d="M90,70 L134,70 L131,100 Q128,130 120,132 L114,96 L110,96 Q104,122 93,122 Z" fill="#b0b0b0"/>
<path d="M100,112 L200,100 L215,105 L195,153 L100,153 Z" fill="#555"/>
<path d="M213,90 L232,70 L232,160 L185,160 Z" fill="#262626"/>
<path d="M143,128 L185,122 L190,160 L140,160 Z" fill="#909090"/>
<path d="M0,86 L84,86 L90,120 L60,128 L0,118 Z" fill="#858585"/>
<path d="M27,90 L55,88 L56,116 L30,114 Z" fill="#3c3c3c"/>
<path d="M56,86 L75,86 L74,118 Q65,124 57,118 Z" fill="#8e8e8e"/>
<path d="M0,95 L100,140 L100,150 L0,108 Z" fill="#a4a4a4"/>
<path d="M0,110 L105,148 L105,160 L0,160 Z" fill="#3a3a3a"/>
<path d="M0,118 L48,160 L0,160 Z" fill="#202020"/>
<path d="M48,128 L108,142 L108,148 L48,135 Z" fill="#3a3a3a"/>
</g>
<g filter="url(#b1)">
<path d="M91,-3 L116,-3 L119,25 Q123,35 121.5,44 Q119,53 104,53 Q87,53 85.5,44 Q85,33 89,25 Z" fill="#a0a0a0" stroke="#c8c8c8" stroke-width="2"/>
<path d="M98,0 L100,24 M108,0 L107,24" stroke="#7a7a7a" stroke-width="2"/>
<ellipse cx="139" cy="45" rx="9" ry="14.5" fill="#9c9c9c" stroke="#c4c4c4" stroke-width="2.2"/>
<ellipse cx="164.5" cy="46.5" rx="10.5" ry="12.5" fill="#a0a0a0" stroke="#c8c8c8" stroke-width="2.2"/>
<ellipse cx="190.5" cy="40" rx="10.5" ry="17" fill="#9a9a9a" stroke="#c0c0c0" stroke-width="2.2" transform="rotate(-25 190.5 40)"/>
<ellipse cx="210" cy="44" rx="10.5" ry="16" fill="#a0a0a0" stroke="#dcdcdc" stroke-width="2.2" transform="rotate(-25 210 44)"/>
<rect x="96" y="53" width="43.5" height="25" rx="6" fill="#fcfcfc"/>
<path d="M97,74 L110,74 L98,122 Q92,124 89,118 Z" fill="#c4c4c4"/>
<path d="M118,74 L134,74 L131,100 L128,128 L121,128 L120,100 Z" fill="#b4b4b4"/>
<path d="M104,74 L126,74 L121,88 L110,88 Z" fill="#f2f2f2"/>
<path d="M100,80 L105,80 L96,118 L92,117 Z" fill="#ffffff"/>
<path d="M143,61 Q154,55 165,61 L164,98 Q156,122 147,98 Z" fill="#a2a2a2" stroke="#c8c8c8" stroke-width="2"/>
<path d="M170,56 Q181,50 193,56 L191,104 Q181,126 173,104 Z" fill="#a6a6a6" stroke="#cccccc" stroke-width="2"/>
<path d="M196,57 Q206,51 217,57 L214,99 Q206,114 199,99 Z" fill="#a4a4a4" stroke="#c8c8c8" stroke-width="2"/>
<path d="M154,66 L155,102" stroke="#5a5a5a" stroke-width="2.5"/>
<path d="M181,62 L182,110" stroke="#505050" stroke-width="2.5"/>
<path d="M206,62 L206,104" stroke="#5a5a5a" stroke-width="2.5"/>
<ellipse cx="223" cy="62" rx="4" ry="7" fill="#d8d8d8"/>
</g>
<g clip-path="url(#cpi1)">
<rect width="84" height="84" fill="#787878"/>
<g filter="url(#b15)">
<path d="M30,-5 L62,-5 L64,40 L40,62 L28,50 Z" fill="#959595"/>
<rect x="0" y="58" width="84" height="30" fill="#8a8a8a"/>
<ellipse cx="23" cy="40" rx="7" ry="6" fill="#4a4a4a"/>
<ellipse cx="70" cy="45" rx="10" ry="16" fill="#666"/>
<ellipse cx="8" cy="60" rx="8" ry="10" fill="#5e5e5e"/>
<path d="M14.5,-2 L22,-2 L10,35 Q6,39 3,35 Z" fill="#ffffff"/>
<path d="M22,-2 L26,-2 L20,14 L17,14 Z" fill="#d8d8d8"/>
<ellipse cx="49.5" cy="5" rx="3" ry="7" fill="#e8e8e8"/>
<ellipse cx="44.5" cy="38" rx="5" ry="13" transform="rotate(22 44.5 38)" fill="#ffffff"/>
</g></g>
<path d="M40.5,25 C37,37 33,47 31,53 C30,58 34,60 38,58 C46,50 52,38 58,28" fill="none" stroke="#d01414" stroke-width="2.2" stroke-dasharray="6 3" stroke-linecap="butt"/>
<rect x="0.6" y="0.6" width="83.2" height="83.4" fill="none" stroke="#fff" stroke-width="2"/>
<g filter="url(#b05)"><ellipse cx="121.5" cy="118.5" rx="5" ry="10.5" transform="rotate(25 121.5 118.5)" fill="#fff"/></g>
<path d="M116.5,110 C114,119 111,126 111.5,130 C112.5,133 116,132 118,130 C123,124 127,117 130,110" fill="none" stroke="#d01414" stroke-width="1.5" stroke-dasharray="3.2 1.8" stroke-linecap="butt"/>
<rect x="104" y="105.5" width="31" height="32" fill="none" stroke="#f4f4f4" stroke-width="1.5"/>
</g><g transform="translate(413,739.5)" clip-path="url(#cp2)">
<rect width="226" height="153.5" fill="#3e3e3e"/>
<g filter="url(#b2)">
<rect x="-5" y="-5" width="150" height="13" fill="#7c7c7c"/>
<path d="M12,7 L108,7 L108,52 L12,52 Z" fill="#2a2a2a"/>
<path d="M100,-5 L145,-5 L145,24 L106,24 Z" fill="#747474"/>
<path d="M-5,-5 L14,-5 L14,36 L-5,36 Z" fill="#9a9a9a"/>
<path d="M-5,35 L9,35 L10.5,75.5 L17.5,93 L29.8,107 L40.3,128 L57.8,160 L-5,160 Z" fill="#1c1c1c"/>
<path d="M30,70 L140,80 L200,92 L205,125 L150,133 L100,136 L72,124 L50,104 L36,84 Z" fill="#454545"/>
<path d="M182,90 L232,88 L232,112 L196,126 Z" fill="#8a8a8a"/>
<path d="M10.5,75.5 L17.5,93 L29.8,107 L40.3,128 L57.8,160 L110,160 L140,153 L165,146 L200,136 L232,124 L232,108 L200,122 L165,132 L130,138 L100,138 L73.6,126 L52.5,108.5 L40,90 L32,72 L14,58 Z" fill="#a9a9a9"/>
<path d="M140,150 Q185,136 232,136 L232,160 L140,160 Z" fill="#2a2a2a"/>
<path d="M138,86 L174,86 L172,118 L140,118 Z" fill="#8c8c8c"/>
<path d="M148,94 L164,94 L162,112 L150,112 Z" fill="#505050"/>
<path d="M120,112 L196,104 L198,130 L124,134 Z" fill="#3a3a3a"/>
</g>
<g filter="url(#b1)">
<path d="M9,44 Q20,34 34,42 L35,60 Q33,85 28,100 Q22,106 18,98 Q12,80 10,60 Z" fill="#a6a6a6"/>
<path d="M37,52 Q48,42 60,51 L59,70 Q56,95 50,106 Q45,108 43,100 Q39,80 38,65 Z" fill="#a6a6a6"/>
<path d="M62,54 Q74,47 87,54 L86,75 Q82,100 76,112 Q71,114 69,106 Q64,85 63,70 Z" fill="#a6a6a6"/>
<path d="M88,56 Q107,47 127,56 L126,72 Q124,95 120,112 Q116,114 114,106 L110,86 L105,86 Q102,104 98,110 Q94,110 92,102 L89,72 Z" fill="#a8a8a8"/>
<path d="M128,56 L142,53 L142,92 L131,92 Z" fill="#9a9a9a"/>
<path d="M33,48 L38,48 L38,75 L33,75 Z" fill="#161616"/>
<path d="M59,52 L63,52 L63,78 L59,78 Z" fill="#161616"/>
<path d="M86,54 L90,54 L90,78 L86,78 Z" fill="#161616"/>
<path d="M126,52 L130,52 L130,80 L126,80 Z" fill="#161616"/>
<path d="M10,46 Q20,37 33,44" fill="none" stroke="#d4d4d4" stroke-width="2.5"/>
<path d="M38,53 Q48,44 59,52" fill="none" stroke="#d4d4d4" stroke-width="2.5"/>
<path d="M63,56 Q74,49 86,56" fill="none" stroke="#d4d4d4" stroke-width="2.5"/>
<path d="M89,57 Q107,49 126,57" fill="none" stroke="#e2e2e2" stroke-width="3"/>
<path d="M21,56 L23,88" stroke="#4e4e4e" stroke-width="2.2"/>
<path d="M48,62 L48,96" stroke="#555" stroke-width="2"/>
<path d="M74,64 L75,104" stroke="#555" stroke-width="2"/>
<path d="M99,70 L98,104 M117,70 L118,104" stroke="#555" stroke-width="2"/>
<path d="M0,20 L10,14 L22,18 L24,26 L14,34 L4,38 L0,36 Z" fill="#d2d2d2"/>
<ellipse cx="63.5" cy="39.5" rx="8.3" ry="10.3" fill="#d6d6d6"/>
<ellipse cx="88.5" cy="43" rx="4.5" ry="8.5" fill="#787878"/>
<ellipse cx="123.5" cy="39" rx="15.5" ry="14.5" fill="#a4a4a4" stroke="#c6c6c6" stroke-width="2.2"/>
<path d="M130,50 L141,46 L141,56 L132,56 Z" fill="#1a1a1a"/>
<circle cx="61.3" cy="127.2" r="2.4" fill="#222"/>
</g>
<g transform="translate(141,0)"><g clip-path="url(#cpi2)">
<rect width="86" height="86" fill="#686868"/>
<g filter="url(#b15)">
<path d="M4,-5 L24,-5 L24,38 Q14,46 4,38 Z" fill="#8e8e8e"/>
<path d="M31,-5 L57,-5 L57,55 Q44,68 31,55 Z" fill="#9c9c9c"/>
<path d="M65,-5 L84,-5 L84,40 Q74,48 65,40 Z" fill="#8a8a8a"/>
<path d="M0,46 L30,42 L30,86 L0,86 Z" fill="#575757"/>
<path d="M56,40 L86,36 L86,86 L54,86 Z" fill="#464646"/>
<path d="M26,66 L56,66 L56,86 L26,86 Z" fill="#5a5a5a"/>
<ellipse cx="14" cy="62" rx="6" ry="5" fill="#7a7a7a"/>
</g></g>
<path d="M31.7,23 C34,35 37,48 40.7,57 C43,62 47,64 50,64 C53,63 54,60 54,57 C53.5,45 52,35 49.6,25.5" fill="none" stroke="#d01414" stroke-width="2.4" stroke-dasharray="6 3.2" stroke-linecap="butt"/>
<rect x="0" y="0.6" width="86" height="84.9" fill="none" stroke="#fff" stroke-width="2"/>
</g>
<g filter="url(#b05)"><path d="M96,104 L107,104 L107,124 Q102,132 97,124 Z" fill="#9a9a9a"/></g>
<path d="M94.6,106 C96,115 98,123 100.7,128 C102,131 104,132 106,131.6 C109,130 110,128 110,124 C110,117 108.5,111 107,106" fill="none" stroke="#d01414" stroke-width="1.5" stroke-dasharray="3 1.8" stroke-linecap="butt"/>
<rect x="88.5" y="104.5" width="31.5" height="32" fill="none" stroke="#f4f4f4" stroke-width="1.5"/>
</g><g transform="translate(167,918.5)" clip-path="url(#cp3)">
<rect width="225" height="152.5" fill="#5a5a5a"/>
<g filter="url(#b2)">
<rect x="84" y="-6" width="150" height="30" fill="#767676"/>
<path d="M158,22 L232,20 L232,72 L158,72 Z" fill="#2e2e2e"/>
<path d="M188,-6 L212,-6 L214,40 L192,40 Z" fill="#a0a0a0"/>
<path d="M212,-6 L232,-6 L232,30 L216,30 Z" fill="#8a8a8a"/>
<path d="M120,20 L128,20 L128,60 L120,60 Z" fill="#2a2a2a"/>
<path d="M140,56 L232,60 L232,74 L140,72 Z" fill="#1e1e1e"/>
<path d="M92,76 L134,76 L131,100 Q128,128 120,128 L114,98 L108,98 Q104,124 94,124 Z" fill="#b0b0b0"/>
<path d="M100,112 L200,100 L212,110 L200,160 L100,160 Z" fill="#575757"/>
<path d="M210,105 L232,95 L232,160 L192,160 Z" fill="#262626"/>
<path d="M140,132 L190,128 L192,160 L140,160 Z" fill="#8a8a8a"/>
<path d="M0,88 L90,88 L95,115 L0,100 Z" fill="#7a7a7a"/>
<path d="M0,96 L100,126 L100,136 L0,106 Z" fill="#2e2e2e"/>
<path d="M0,106 L100,136 L100,160 L0,160 Z" fill="#a4a4a4"/>
<path d="M20,118 L100,142 L100,148 L20,126 Z" fill="#505050"/>
</g>
<g filter="url(#b1)">
<path d="M86,-6 L114,-6 L116,44 Q112,54 100,53 Q88,50 86,40 Z" fill="#9c9c9c" stroke="#cfcfcf" stroke-width="2.5"/>
<ellipse cx="136.5" cy="49" rx="8.5" ry="14" fill="#c4c4c4" stroke="#d8d8d8" stroke-width="2.2"/>
<ellipse cx="163" cy="50" rx="7" ry="10.5" fill="#aaaaaa" stroke="#c4c4c4" stroke-width="2.2"/>
<rect x="94" y="59" width="43.5" height="21" rx="6" fill="#fcfcfc"/>
<path d="M96,78 L109,78 L99,124 Q93,126 90,120 Z" fill="#c4c4c4"/>
<path d="M117,78 L133,78 L130,104 L128,130 L121,130 L119,104 Z" fill="#b4b4b4"/>
<path d="M103,78 L125,78 L120,92 L109,92 Z" fill="#f2f2f2"/>
<path d="M99,84 L104,84 L96,121 L92,120 Z" fill="#ffffff"/>
<path d="M140,65 Q149,59 158,65 L157,104 Q150,123 142,104 Z" fill="#a6a6a6" stroke="#cdcdcd" stroke-width="2"/>
<path d="M167,67 Q175,61 183,67 L182,109 Q175,128 169,109 Z" fill="#b2b2b2" stroke="#d4d4d4" stroke-width="2"/>
<path d="M190,71 Q199,65 207,71 L205,104 Q199,120 192,104 Z" fill="#aeaeae" stroke="#d0d0d0" stroke-width="2"/>
<path d="M211,67 Q220,61 232,67 L232,95 L213,95 Z" fill="#bcbcbc" stroke="#d8d8d8" stroke-width="2"/>
<path d="M149,72 L149,108" stroke="#5a5a5a" stroke-width="2.5"/>
<path d="M175,74 L175,115" stroke="#505050" stroke-width="2.5"/>
<path d="M199,76 L199,106" stroke="#5a5a5a" stroke-width="2.5"/>
</g>
<g clip-path="url(#cpi3)">
<rect width="86" height="89" fill="#767676"/>
<g filter="url(#b15)">
<rect x="0" y="52" width="86" height="40" fill="#9a9a9a"/>
<path d="M22,8 L42,8 L42,50 L22,50 Z" fill="#505050"/>
<ellipse cx="21" cy="49" rx="6" ry="6" fill="#3a3a3a"/>
<path d="M68,-5 L84,-5 L84,50 L70,50 Z" fill="#8e8e8e"/>
<path d="M56,0 L68,0 L68,55 L56,55 Z" fill="#5c5c5c"/>
<path d="M17,-6 L28,-6 L15,47 Q9,50 5,44 Z" fill="#ffffff"/>
<path d="M17,-6 Q32,-16 50,-6 L51,6 Q34,-6 26,6 Z" fill="#f4f4f4"/>
<path d="M42,-6 L51,-6 L51,24 L43,24 Z" fill="#f0f0f0"/>
<ellipse cx="45" cy="45" rx="5" ry="15" transform="rotate(15 45 45)" fill="#ffffff"/>
</g></g>
<path d="M40.4,32 C37,42 34,52 32.5,59 C31.5,64 34,67 38,66 C46,58 53,45 58.6,33.8" fill="none" stroke="#d01414" stroke-width="2.2" stroke-dasharray="6 3" stroke-linecap="butt"/>
<rect x="0.6" y="0.8" width="85.4" height="87.7" fill="none" stroke="#fff" stroke-width="2"/>
<g filter="url(#b05)"><ellipse cx="122.5" cy="122" rx="5" ry="10.5" transform="rotate(22 122.5 122)" fill="#fff"/></g>
<path d="M118,114.5 C116,122 113,128 112.5,132 C113,136 116,136 118,134 C123,128 127,122 130.4,115" fill="none" stroke="#d01414" stroke-width="1.5" stroke-dasharray="3.2 1.8" stroke-linecap="butt"/>
<rect x="105.5" y="107.5" width="31.5" height="33" fill="none" stroke="#f4f4f4" stroke-width="1.5"/>
</g><g transform="translate(413,918.3)" clip-path="url(#cp4)">
<rect width="226" height="153.3" fill="#4e4e4e"/>
<g filter="url(#b2)">
<rect x="-5" y="-5" width="150" height="28" fill="#6c6c6c"/>
<rect x="-5" y="-5" width="10" height="40" fill="#2a2a2a"/>
<path d="M30,12 L66,12 L66,54 L30,54 Z" fill="#2a2a2a"/>
<path d="M106,18 L120,18 L120,50 L106,50 Z" fill="#2c2c2c"/>
<path d="M78,20 L90,20 L90,52 L78,52 Z" fill="#333"/>
<ellipse cx="49" cy="29" rx="5" ry="6" fill="#8a8a8a"/>
<path d="M-5,38 L18,38 L20,82 L-5,82 Z" fill="#222"/>
<path d="M-5,76 L43,76 L49,102 L56,130 L64,160 L-5,160 Z" fill="#1a1a1a"/>
<path d="M43,76 L92,76 L96,100 L104,120 L110,135 L114,160 L64,160 L56,130 L49,102 Z" fill="#b0b0b0"/>
<path d="M92,80 L150,82 L210,92 L200,132 L150,138 L112,132 L100,110 Z" fill="#474747"/>
<path d="M178,90 L208,90 L205,132 L185,140 Z" fill="#a2a2a2"/>
<path d="M205,88 L232,88 L232,160 L186,160 L200,127 Z" fill="#1e1e1e"/>
<path d="M108,138 L150,142 L186,140 L190,160 L110,160 Z" fill="#2c2c2c"/>
<path d="M100,130 L180,136 L180,142 L104,138 Z" fill="#8a8a8a"/>
<path d="M41,52 Q53,46 66,52 L64,80 Q60,100 54,98 Q46,96 44,80 Z" fill="#b0b0b0"/>
<path d="M69,53 Q81,47 94,53 L91,90 Q85,118 80,115 Q72,110 71,90 Z" fill="#b0b0b0"/>
<path d="M96,54 Q116,46 137,54 L136,80 L134,115 Q128,122 120,112 L117,92 Q110,120 104,112 L99,80 Z" fill="#aeaeae"/>
<path d="M151,90 Q165,84 180,90 L178,118 Q165,128 153,118 Z" fill="#a0a0a0"/>
<path d="M38,52 L42,52 L42,80 L38,80 Z" fill="#1a1a1a"/>
<path d="M65,54 L69,54 L69,80 L65,80 Z" fill="#1a1a1a"/>
<path d="M93,54 L97,54 L97,80 L93,80 Z" fill="#1a1a1a"/>
</g>
<g filter="url(#b1)">
<path d="M36,4 L42,8 L34,30 L14,42 L5,40 L4,32 L18,16 Z" fill="#9a9a9a" stroke="#e8e8e8" stroke-width="3"/>
<path d="M20,44 Q30,38 40,46 L38,70 Q32,80 26,76 Q20,64 20,44 Z" fill="#c8c8c8" stroke="#e4e4e4" stroke-width="2"/>
<ellipse cx="71" cy="39.5" rx="9" ry="13.5" fill="#c4c4c4" stroke="#e2e2e2" stroke-width="2.2"/>
<ellipse cx="97" cy="38.5" rx="9" ry="14.5" fill="#c4c4c4" stroke="#e2e2e2" stroke-width="2.2"/>
<path d="M118,30 Q128,18 140,25 L140,48 Q128,52 120,46 Z" fill="#a6a6a6" stroke="#d8d8d8" stroke-width="2"/>
<path d="M42,54 Q53,47 65,54" fill="none" stroke="#e6e6e6" stroke-width="3"/>
<path d="M70,55 Q81,48 93,55" fill="none" stroke="#e6e6e6" stroke-width="3"/>
<path d="M97,56 Q116,48 136,56" fill="none" stroke="#ececec" stroke-width="3.2"/>
<path d="M54,62 L54,92" stroke="#5a5a5a" stroke-width="2"/>
<path d="M81,64 L81,108" stroke="#5a5a5a" stroke-width="2"/>
<path d="M108,68 L108,108 M126,68 L127,108" stroke="#5a5a5a" stroke-width="2"/>
<circle cx="69.7" cy="131.4" r="2.6" fill="#222"/>
</g>
<g transform="translate(141,0)"><g clip-path="url(#cpi4)">
<rect width="86" height="89" fill="#767676"/>
<g filter="url(#b15)">
<path d="M31,-5 L56,-5 L56,56 L31,56 Z" fill="#a0a0a0"/>
<path d="M4,-5 L24,-5 L24,45 L4,45 Z" fill="#929292"/>
<path d="M68,-5 L82,-5 L82,45 L68,45 Z" fill="#9a9a9a"/>
<path d="M24,70 L56,70 L56,92 L24,92 Z" fill="#a4a4a4"/>
<path d="M53,66 L86,66 L86,86 L53,86 Z" fill="#4a4a4a"/>
<ellipse cx="14" cy="62" rx="10" ry="10" fill="#8a8a8a"/>
</g></g>
<path d="M30,25.2 C32,37 35,50 38.4,59 C41,63 45,65.5 48.4,65.5 C51,65 53,63 52.6,60 C52,50 50,38 47.6,27.3" fill="none" stroke="#d01414" stroke-width="2.4" stroke-dasharray="6 3.2" stroke-linecap="butt"/>
<rect x="0" y="0.8" width="86" height="88.2" fill="none" stroke="#fff" stroke-width="2"/>
</g>
<path d="M100.9,109 C102,118 104,126 106.2,131.4 C108,134 110,135 111.6,134.6 C114,134 116,133 115.9,130 C115.5,122 114,115 112.7,109" fill="none" stroke="#d01414" stroke-width="1.5" stroke-dasharray="3 1.8" stroke-linecap="butt"/>
<rect x="95" y="108.5" width="32" height="32" fill="none" stroke="#f4f4f4" stroke-width="1.5"/>
</g>
<rect x="167" y="893.3" width="225.3" height="24.7" fill="#0f7579"/>
<rect x="413" y="893" width="226" height="25.3" fill="#0f7579"/>
<text class="hd" x="279.5" y="913" font-size="19.5" text-anchor="middle" textLength="33.5" lengthAdjust="spacingAndGlyphs">RFT</text>
<text class="hd" x="525.7" y="912.8" font-size="19.5" text-anchor="middle" textLength="35.5" lengthAdjust="spacingAndGlyphs">VPT</text>
</svg>
</body></html>
